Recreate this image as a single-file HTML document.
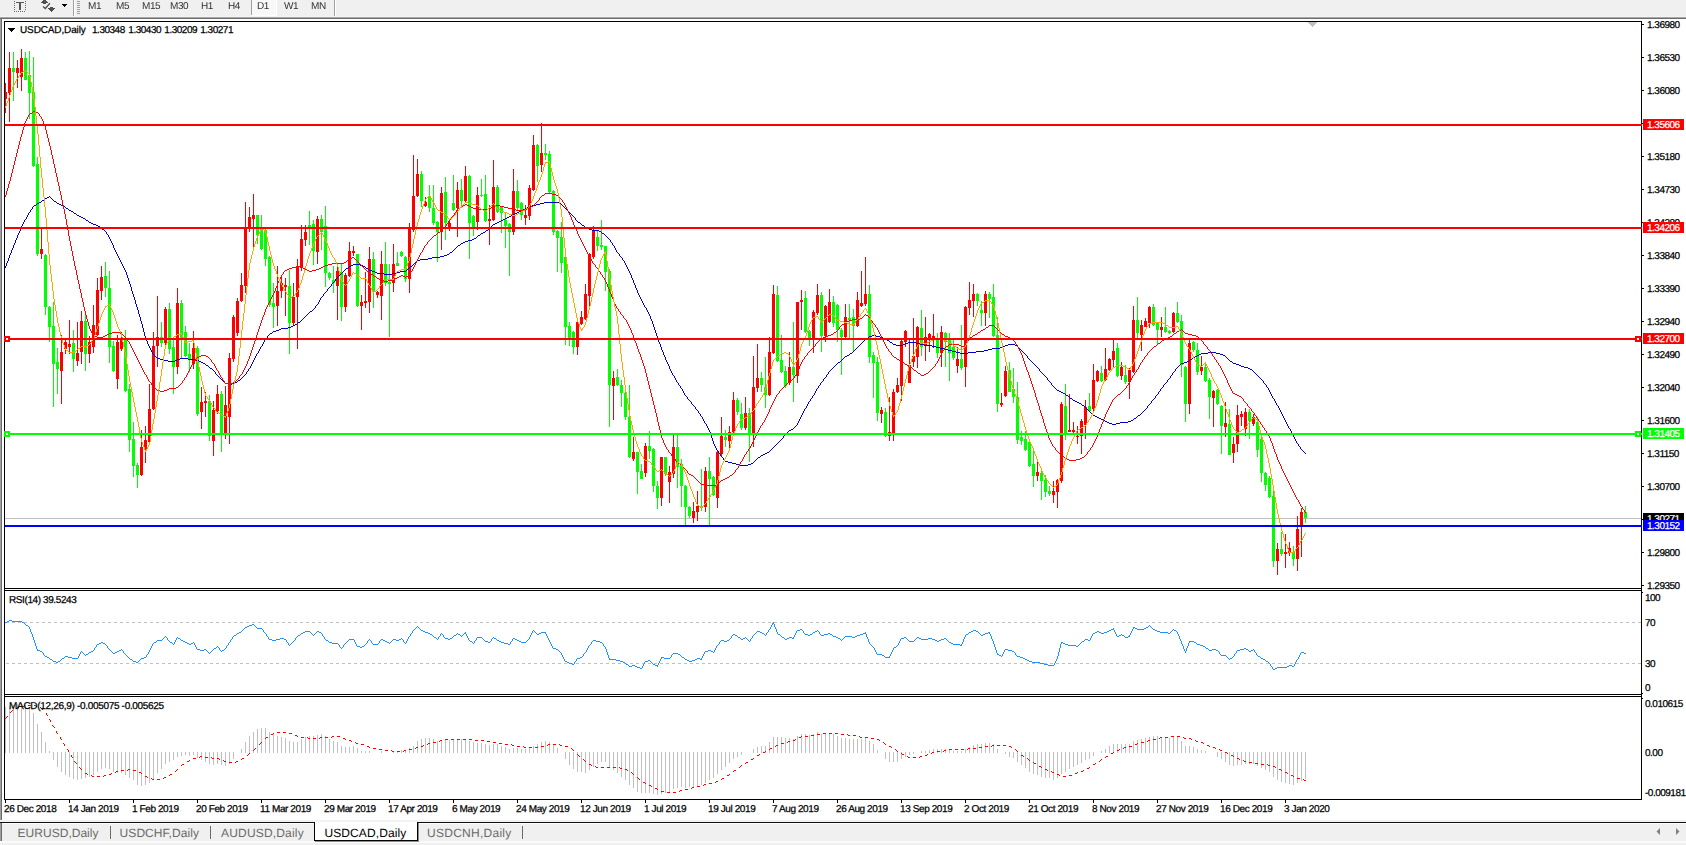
<!DOCTYPE html><html><head><meta charset="utf-8"><title>USDCAD,Daily</title>
<style>
html,body{margin:0;padding:0;background:#fff}
body{width:1686px;height:845px;position:relative;overflow:hidden;font-family:"Liberation Sans",sans-serif;font-size:10px;color:#000;text-rendering:geometricPrecision}
.a{position:absolute;white-space:nowrap;line-height:1}
.t{position:absolute;white-space:nowrap;line-height:12px;height:12px;font-size:10px;-webkit-text-stroke:0.25px #000}
.pl{left:1647px;letter-spacing:-0.5px}
.sl{left:1645px;letter-spacing:-0.5px}
.bx{position:absolute;left:1643px;width:41px;height:11px;color:#fff;overflow:hidden}
.bx span{position:absolute;left:4px;top:1px;line-height:12px;font-size:10px;letter-spacing:-0.5px;-webkit-text-stroke:0.25px #fff}
.dl{top:804px;letter-spacing:-0.4px}
.tf{top:1px;font-size:10px;color:#303030;line-height:12px;letter-spacing:-0.4px;will-change:transform}
.tab{top:826px;font-size:12px;line-height:14px;color:#6a6a6a;letter-spacing:0px}
</style></head><body>
<div class="a" style="left:0;top:0;width:1686px;height:16px;background:#f0f0f0"></div>
<div class="a" style="left:0;top:16px;width:1686px;height:1px;background:#f4f4f4"></div>
<div class="a" style="left:0;top:17px;width:1686px;height:1px;background:#a8a8a8"></div>
<div class="a" style="left:0;top:18px;width:1686px;height:1px;background:#6c6c6c"></div>
<div class="a" style="left:0;top:19px;width:1px;height:801px;background:#a0a0a0"></div>
<div class="a" style="left:1px;top:19px;width:1px;height:801px;background:#6c6c6c"></div>
<div class="a" style="left:73px;top:0;width:1px;height:16px;background:#a0a0a0"></div>
<div class="a" style="left:74px;top:0;width:1px;height:16px;background:#fff"></div>
<div class="a" style="left:334px;top:0;width:1px;height:16px;background:#a0a0a0"></div>
<div class="a" style="left:335px;top:0;width:1px;height:16px;background:#fff"></div>
<div class="a" style="left:77px;top:1px;width:3px;height:13px;background:repeating-linear-gradient(to bottom,#a0a0a0 0,#a0a0a0 1px,#f0f0f0 1px,#f0f0f0 2px)"></div>
<div class="a" style="left:251px;top:0;width:25px;height:15px;background:#f8f8f8;border-left:1px solid #a0a0a0;box-sizing:border-box"></div>
<div class="a" style="left:251px;top:15px;width:26px;height:1px;background:#fff"></div>
<div class="a" style="left:276px;top:0;width:1px;height:16px;background:#fff"></div>
<svg class="a" style="left:0;top:0" width="72" height="16" viewBox="0 0 72 16">
<g shape-rendering="crispEdges"><path d="M14 1h1v1h-1zM14 3h1v1h-1zM14 5h1v1h-1zM14 7h1v1h-1zM14 9h1v1h-1zM25 1h1v1h-1zM25 3h1v1h-1zM25 5h1v1h-1zM25 7h1v1h-1zM25 9h1v1h-1zM14 11h1v1h-1zM16 11h1v1h-1zM18 11h1v1h-1zM20 11h1v1h-1zM22 11h1v1h-1zM24 11h1v1h-1z" fill="#6a6a6a"/>
<path d="M16 2h8v1h-8zM19 2h2v8h-2z" fill="#585858"/>
<path d="M43 0h3v1h-3zM42 1h5v1h-5zM41 2h7v1h-7zM43 3h3v1h-3zM50 7h3v1h-3zM48 8h7v1h-7zM49 9h5v1h-5zM50 10h3v1h-3zM51 11h1v1h-1z" fill="#505050"/>
<path d="M62 4h5v1h-5zM63 5h3v1h-3zM64 6h1v1h-1z" fill="#000"/></g>
<path d="M49.900 3.200L45.300 8.500L43 6.600" fill="none" stroke="#505050" stroke-width="1.300"/></svg>
<svg width="1686" height="845" viewBox="0 0 1686 845" shape-rendering="crispEdges" style="position:absolute;left:0;top:0">
<path d="M5 518h1636v1h-1636z" fill="#c0c0c0"/>
<path d="M6 622.5H1641M6 663.5H1641" stroke="#c0c0c0" stroke-width="1" stroke-dasharray="3 3" fill="none"/>
<path d="M5 707h1v46h-1zM9 706h1v47h-1zM13 705h1v48h-1zM17 704h1v49h-1zM21 704h1v49h-1zM25 705h1v48h-1zM29 707h1v46h-1zM33 713h1v40h-1zM37 724h1v29h-1zM41 732h1v21h-1zM45 742h1v11h-1zM49 751h1v2h-1zM53 752h1v8h-1zM57 752h1v15h-1zM61 752h1v20h-1zM65 752h1v23h-1zM69 752h1v25h-1zM73 752h1v27h-1zM77 752h1v28h-1zM81 752h1v27h-1zM85 752h1v26h-1zM89 752h1v25h-1zM93 752h1v23h-1zM97 752h1v20h-1zM101 752h1v17h-1zM105 752h1v16h-1zM109 752h1v17h-1zM113 752h1v20h-1zM117 752h1v21h-1zM121 752h1v21h-1zM125 752h1v23h-1zM129 752h1v26h-1zM133 752h1v28h-1zM137 752h1v33h-1zM141 752h1v34h-1zM145 752h1v33h-1zM149 752h1v31h-1zM153 752h1v27h-1zM157 752h1v21h-1zM161 752h1v17h-1zM165 752h1v12h-1zM169 752h1v10h-1zM173 752h1v8h-1zM177 752h1v5h-1zM181 752h1v4h-1zM185 752h1v3h-1zM189 752h1v4h-1zM193 752h1v3h-1zM197 752h1v6h-1zM201 752h1v8h-1zM205 752h1v10h-1zM209 752h1v12h-1zM213 752h1v13h-1zM217 752h1v12h-1zM221 752h1v13h-1zM225 752h1v14h-1zM229 752h1v12h-1zM233 752h1v7h-1zM241 749h1v4h-1zM245 742h1v11h-1zM249 736h1v17h-1zM253 732h1v21h-1zM257 729h1v24h-1zM261 728h1v25h-1zM265 728h1v25h-1zM269 732h1v21h-1zM273 734h1v19h-1zM277 736h1v17h-1zM281 737h1v16h-1zM285 738h1v15h-1zM289 741h1v12h-1zM293 742h1v11h-1zM297 742h1v11h-1zM301 739h1v14h-1zM305 737h1v16h-1zM309 736h1v17h-1zM313 736h1v17h-1zM317 735h1v18h-1zM321 734h1v19h-1zM325 736h1v17h-1zM329 739h1v14h-1zM333 741h1v12h-1zM337 742h1v11h-1zM341 746h1v7h-1zM345 747h1v6h-1zM349 747h1v6h-1zM353 746h1v7h-1zM357 748h1v5h-1zM361 751h1v2h-1zM365 751h1v2h-1zM369 751h1v2h-1zM381 751h1v2h-1zM393 751h1v2h-1zM397 751h1v2h-1zM401 750h1v3h-1zM405 750h1v3h-1zM409 748h1v5h-1zM413 746h1v7h-1zM417 741h1v12h-1zM421 739h1v14h-1zM425 738h1v15h-1zM429 738h1v15h-1zM433 739h1v14h-1zM437 741h1v12h-1zM441 740h1v13h-1zM445 739h1v14h-1zM449 740h1v13h-1zM453 739h1v14h-1zM457 739h1v14h-1zM461 739h1v14h-1zM465 739h1v14h-1zM469 741h1v12h-1zM473 742h1v11h-1zM477 743h1v10h-1zM481 743h1v10h-1zM485 744h1v9h-1zM489 745h1v8h-1zM493 744h1v9h-1zM497 744h1v9h-1zM501 746h1v7h-1zM505 747h1v6h-1zM509 749h1v4h-1zM513 748h1v5h-1zM517 748h1v5h-1zM521 749h1v4h-1zM525 749h1v4h-1zM529 748h1v5h-1zM533 746h1v7h-1zM537 744h1v9h-1zM541 742h1v11h-1zM545 741h1v12h-1zM549 742h1v11h-1zM553 744h1v9h-1zM557 748h1v5h-1zM565 752h1v7h-1zM569 752h1v13h-1zM573 752h1v17h-1zM577 752h1v20h-1zM581 752h1v20h-1zM585 752h1v21h-1zM589 752h1v18h-1zM593 752h1v15h-1zM597 752h1v12h-1zM601 752h1v10h-1zM605 752h1v10h-1zM609 752h1v16h-1zM613 752h1v18h-1zM617 752h1v21h-1zM621 752h1v25h-1zM625 752h1v28h-1zM629 752h1v33h-1zM633 752h1v36h-1zM637 752h1v40h-1zM641 752h1v41h-1zM645 752h1v41h-1zM649 752h1v41h-1zM653 752h1v42h-1zM657 752h1v43h-1zM661 752h1v42h-1zM665 752h1v41h-1zM669 752h1v40h-1zM673 752h1v37h-1zM677 752h1v36h-1zM681 752h1v35h-1zM685 752h1v36h-1zM689 752h1v35h-1zM693 752h1v35h-1zM697 752h1v34h-1zM701 752h1v33h-1zM705 752h1v31h-1zM709 752h1v28h-1zM713 752h1v26h-1zM717 752h1v22h-1zM721 752h1v18h-1zM725 752h1v15h-1zM729 752h1v11h-1zM733 752h1v7h-1zM737 752h1v5h-1zM741 752h1v3h-1zM753 749h1v4h-1zM757 747h1v6h-1zM761 746h1v7h-1zM765 746h1v7h-1zM769 742h1v11h-1zM773 737h1v16h-1zM777 737h1v16h-1zM781 737h1v16h-1zM785 738h1v15h-1zM789 738h1v15h-1zM793 739h1v14h-1zM797 736h1v17h-1zM801 734h1v19h-1zM805 734h1v19h-1zM809 735h1v18h-1zM813 734h1v19h-1zM817 732h1v21h-1zM821 734h1v19h-1zM825 734h1v19h-1zM829 734h1v19h-1zM833 734h1v19h-1zM837 736h1v17h-1zM841 738h1v15h-1zM845 738h1v15h-1zM849 739h1v14h-1zM853 739h1v14h-1zM857 739h1v14h-1zM861 739h1v14h-1zM865 738h1v15h-1zM869 741h1v12h-1zM873 744h1v9h-1zM877 750h1v3h-1zM885 752h1v7h-1zM889 752h1v10h-1zM893 752h1v10h-1zM897 752h1v10h-1zM901 752h1v7h-1zM905 752h1v5h-1zM909 752h1v3h-1zM913 752h1v2h-1zM921 751h1v2h-1zM925 751h1v2h-1zM929 750h1v3h-1zM933 749h1v4h-1zM937 749h1v4h-1zM941 749h1v4h-1zM945 749h1v4h-1zM949 749h1v4h-1zM953 751h1v2h-1zM957 751h1v2h-1zM961 751h1v2h-1zM965 749h1v4h-1zM969 747h1v6h-1zM973 745h1v8h-1zM977 744h1v9h-1zM981 744h1v9h-1zM985 743h1v10h-1zM989 743h1v10h-1zM993 744h1v9h-1zM997 749h1v4h-1zM1005 752h1v2h-1zM1009 752h1v5h-1zM1013 752h1v6h-1zM1017 752h1v10h-1zM1021 752h1v13h-1zM1025 752h1v16h-1zM1029 752h1v20h-1zM1033 752h1v22h-1zM1037 752h1v23h-1zM1041 752h1v25h-1zM1045 752h1v26h-1zM1049 752h1v26h-1zM1053 752h1v28h-1zM1057 752h1v26h-1zM1061 752h1v22h-1zM1065 752h1v20h-1zM1069 752h1v17h-1zM1073 752h1v15h-1zM1077 752h1v13h-1zM1081 752h1v11h-1zM1085 752h1v8h-1zM1089 752h1v7h-1zM1093 752h1v4h-1zM1101 751h1v2h-1zM1105 749h1v4h-1zM1109 746h1v7h-1zM1113 744h1v9h-1zM1117 744h1v9h-1zM1121 744h1v9h-1zM1125 744h1v9h-1zM1129 744h1v9h-1zM1133 741h1v12h-1zM1137 740h1v13h-1zM1141 739h1v14h-1zM1145 738h1v15h-1zM1149 737h1v16h-1zM1153 736h1v17h-1zM1157 736h1v17h-1zM1161 737h1v16h-1zM1165 737h1v16h-1zM1169 738h1v15h-1zM1173 737h1v16h-1zM1177 737h1v16h-1zM1181 741h1v12h-1zM1185 746h1v7h-1zM1189 746h1v7h-1zM1193 747h1v6h-1zM1197 749h1v4h-1zM1201 750h1v3h-1zM1205 751h1v2h-1zM1217 752h1v5h-1zM1221 752h1v7h-1zM1225 752h1v10h-1zM1229 752h1v13h-1zM1233 752h1v14h-1zM1237 752h1v13h-1zM1241 752h1v13h-1zM1245 752h1v12h-1zM1249 752h1v12h-1zM1253 752h1v12h-1zM1257 752h1v14h-1zM1261 752h1v16h-1zM1265 752h1v18h-1zM1269 752h1v20h-1zM1273 752h1v25h-1zM1277 752h1v28h-1zM1281 752h1v30h-1zM1285 752h1v31h-1zM1289 752h1v32h-1zM1293 752h1v33h-1zM1297 752h1v31h-1zM1301 752h1v29h-1zM1305 752h1v27h-1z" fill="#c0c0c0"/>
<path d="M13 52h1v49h-1zM12 68h3v4h-3zM25 52h1v28h-1zM24 58h3v22h-3zM29 51h1v68h-1zM28 75h3v18h-3zM33 57h1v110h-1zM32 92h3v74h-3zM37 157h1v99h-1zM36 164h3v90h-3zM45 254h1v61h-1zM44 255h3v52h-3zM49 306h1v36h-1zM48 307h3v20h-3zM53 302h1v105h-1zM52 326h3v38h-3zM57 348h1v46h-1zM56 362h3v7h-3zM73 330h1v42h-1zM72 343h3v16h-3zM85 315h1v56h-1zM84 321h3v33h-3zM105 262h1v35h-1zM104 276h3v12h-3zM109 271h1v92h-1zM108 288h3v59h-3zM113 341h1v31h-1zM112 346h3v25h-3zM125 330h1v62h-1zM124 340h3v51h-3zM129 384h1v68h-1zM128 389h3v51h-3zM133 422h1v55h-1zM132 439h3v27h-3zM137 463h1v25h-1zM136 465h3v10h-3zM161 322h1v25h-1zM160 337h3v6h-3zM169 303h1v51h-1zM168 309h3v40h-3zM173 340h1v54h-1zM172 347h3v20h-3zM181 300h1v59h-1zM180 303h3v37h-3zM185 326h1v31h-1zM184 332h3v24h-3zM189 343h1v29h-1zM188 354h3v5h-3zM197 346h1v70h-1zM196 348h3v66h-3zM209 395h1v46h-1zM208 401h3v35h-3zM221 391h1v61h-1zM220 394h3v40h-3zM257 215h1v29h-1zM256 215h3v20h-3zM261 215h1v35h-1zM260 229h3v20h-3zM265 229h1v37h-1zM264 230h3v29h-3zM269 256h1v51h-1zM268 257h3v48h-3zM273 283h1v45h-1zM272 303h3v4h-3zM289 270h1v84h-1zM288 286h3v37h-3zM309 211h1v34h-1zM308 225h3v4h-3zM313 220h1v45h-1zM312 224h3v27h-3zM321 215h1v35h-1zM320 219h3v13h-3zM325 206h1v81h-1zM324 226h3v47h-3zM329 272h1v8h-1zM328 273h3v5h-3zM333 266h1v27h-1zM332 280h3v3h-3zM341 264h1v57h-1zM340 272h3v35h-3zM357 254h1v53h-1zM356 254h3v52h-3zM373 252h1v56h-1zM372 259h3v33h-3zM385 242h1v44h-1zM384 264h3v19h-3zM389 264h1v73h-1zM388 282h3v2h-3zM397 252h1v14h-1zM396 263h3v3h-3zM401 251h1v6h-1zM400 252h3v4h-3zM405 256h1v26h-1zM404 257h3v22h-3zM421 171h1v36h-1zM420 174h3v27h-3zM429 185h1v27h-1zM428 196h3v12h-3zM433 185h1v40h-1zM432 208h3v15h-3zM437 221h1v41h-1zM436 222h3v10h-3zM445 177h1v63h-1zM444 192h3v31h-3zM453 175h1v36h-1zM452 203h3v7h-3zM461 179h1v29h-1zM460 190h3v11h-3zM469 175h1v84h-1zM468 176h3v47h-3zM473 215h1v21h-1zM472 216h3v11h-3zM481 179h1v18h-1zM480 195h3v1h-3zM485 175h1v47h-1zM484 194h3v27h-3zM497 185h1v28h-1zM496 187h3v25h-3zM501 206h1v27h-1zM500 207h3v6h-3zM505 213h1v35h-1zM504 220h3v6h-3zM509 223h1v53h-1zM508 224h3v8h-3zM517 180h1v30h-1zM516 191h3v17h-3zM521 202h1v18h-1zM520 203h3v12h-3zM537 144h1v38h-1zM536 145h3v21h-3zM545 144h1v16h-1zM544 153h3v2h-3zM549 151h1v42h-1zM548 154h3v38h-3zM553 190h1v45h-1zM552 191h3v41h-3zM557 230h1v42h-1zM556 231h3v7h-3zM561 222h1v51h-1zM560 237h3v26h-3zM565 256h1v89h-1zM564 257h3v70h-3zM569 322h1v24h-1zM568 326h3v13h-3zM573 331h1v23h-1zM572 332h3v15h-3zM597 230h1v21h-1zM596 237h3v9h-3zM601 220h1v30h-1zM600 245h3v2h-3zM605 246h1v45h-1zM604 246h3v26h-3zM609 269h1v158h-1zM608 271h3v114h-3zM617 369h1v17h-1zM616 377h3v8h-3zM621 380h1v27h-1zM620 385h3v8h-3zM625 385h1v35h-1zM624 393h3v24h-3zM629 385h1v73h-1zM628 417h3v40h-3zM637 452h1v42h-1zM636 452h3v20h-3zM641 464h1v15h-1zM640 471h3v8h-3zM649 431h1v28h-1zM648 446h3v5h-3zM653 448h1v44h-1zM652 449h3v37h-3zM657 481h1v28h-1zM656 486h3v12h-3zM665 457h1v19h-1zM664 457h3v17h-3zM677 435h1v53h-1zM676 447h3v20h-3zM681 459h1v48h-1zM680 464h3v22h-3zM685 485h1v40h-1zM684 486h3v21h-3zM689 506h1v12h-1zM688 507h3v9h-3zM701 469h1v42h-1zM700 506h3v2h-3zM709 457h1v68h-1zM708 471h3v8h-3zM713 476h1v20h-1zM712 477h3v18h-3zM725 430h1v17h-1zM724 437h3v3h-3zM737 398h1v17h-1zM736 400h3v12h-3zM741 403h1v27h-1zM740 414h3v14h-3zM749 408h1v54h-1zM748 413h3v20h-3zM761 372h1v20h-1zM760 378h3v7h-3zM765 357h1v51h-1zM764 387h3v8h-3zM777 286h1v76h-1zM776 295h3v66h-3zM781 335h1v38h-1zM780 360h3v12h-3zM785 366h1v22h-1zM784 371h3v15h-3zM793 322h1v80h-1zM792 367h3v8h-3zM805 291h1v42h-1zM804 298h3v34h-3zM809 330h1v16h-1zM808 331h3v9h-3zM821 292h1v60h-1zM820 295h3v41h-3zM833 296h1v31h-1zM832 302h3v21h-3zM837 304h1v38h-1zM836 305h3v25h-3zM841 328h1v47h-1zM840 330h3v7h-3zM849 304h1v36h-1zM848 318h3v2h-3zM853 309h1v42h-1zM852 317h3v9h-3zM869 285h1v78h-1zM868 294h3v63h-3zM873 352h1v46h-1zM872 355h3v8h-3zM877 357h1v64h-1zM876 362h3v51h-3zM885 408h1v29h-1zM884 412h3v24h-3zM921 310h1v46h-1zM920 328h3v19h-3zM937 333h1v25h-1zM936 340h3v13h-3zM945 332h1v35h-1zM944 333h3v9h-3zM949 333h1v48h-1zM948 340h3v13h-3zM953 340h1v20h-1zM952 347h3v11h-3zM961 325h1v45h-1zM960 359h3v9h-3zM977 293h1v13h-1zM976 294h3v7h-3zM981 301h1v25h-1zM980 310h3v3h-3zM989 292h1v26h-1zM988 294h3v5h-3zM993 284h1v53h-1zM992 297h3v39h-3zM997 317h1v95h-1zM996 335h3v69h-3zM1009 362h1v30h-1zM1008 370h3v22h-3zM1013 368h1v35h-1zM1012 389h3v8h-3zM1017 382h1v62h-1zM1016 397h3v43h-3zM1021 431h1v14h-1zM1020 437h3v4h-3zM1025 431h1v20h-1zM1024 439h3v11h-3zM1029 441h1v26h-1zM1028 442h3v24h-3zM1033 449h1v38h-1zM1032 464h3v12h-3zM1041 470h1v30h-1zM1040 473h3v8h-3zM1045 475h1v22h-1zM1044 480h3v12h-3zM1049 486h1v10h-1zM1048 491h3v3h-3zM1065 384h1v56h-1zM1064 406h3v28h-3zM1089 393h1v19h-1zM1088 406h3v5h-3zM1101 366h1v16h-1zM1100 373h3v8h-3zM1117 343h1v34h-1zM1116 348h3v28h-3zM1125 365h1v19h-1zM1124 375h3v7h-3zM1137 297h1v43h-1zM1136 320h3v13h-3zM1153 304h1v22h-1zM1152 307h3v18h-3zM1157 322h1v23h-1zM1156 323h3v7h-3zM1165 307h1v26h-1zM1164 327h3v5h-3zM1169 330h1v4h-1zM1168 331h3v2h-3zM1177 302h1v21h-1zM1176 313h3v9h-3zM1181 315h1v62h-1zM1180 321h3v44h-3zM1185 366h1v56h-1zM1184 367h3v37h-3zM1193 341h1v11h-1zM1192 342h3v8h-3zM1197 343h1v32h-1zM1196 350h3v22h-3zM1205 362h1v20h-1zM1204 367h3v14h-3zM1209 378h1v41h-1zM1208 380h3v17h-3zM1217 389h1v16h-1zM1216 390h3v14h-3zM1221 405h1v49h-1zM1220 406h3v20h-3zM1229 409h1v46h-1zM1228 424h3v31h-3zM1249 409h1v30h-1zM1248 412h3v9h-3zM1257 417h1v40h-1zM1256 422h3v28h-3zM1261 436h1v46h-1zM1260 439h3v34h-3zM1265 472h1v19h-1zM1264 473h3v12h-3zM1269 476h1v22h-1zM1268 478h3v19h-3zM1273 487h1v80h-1zM1272 496h3v65h-3zM1281 532h1v24h-1zM1280 549h3v5h-3zM1293 546h1v20h-1zM1292 552h3v7h-3zM1305 506h1v17h-1zM1304 512h3v6h-3z" fill="#00ff00"/>
<path d="M5 83h1v30h-1zM5 92h2v7h-2zM9 52h1v70h-1zM8 68h3v25h-3zM17 60h1v28h-1zM16 68h3v5h-3zM21 49h1v42h-1zM20 58h3v19h-3zM41 229h1v30h-1zM40 249h3v5h-3zM61 335h1v69h-1zM60 352h3v19h-3zM65 338h1v16h-1zM64 342h3v7h-3zM69 320h1v34h-1zM68 344h3v3h-3zM77 322h1v44h-1zM76 353h3v8h-3zM81 311h1v53h-1zM80 321h3v31h-3zM89 336h1v27h-1zM88 342h3v12h-3zM93 305h1v48h-1zM92 325h3v22h-3zM97 278h1v58h-1zM96 290h3v45h-3zM101 266h1v34h-1zM100 277h3v14h-3zM117 335h1v54h-1zM116 342h3v37h-3zM121 332h1v19h-1zM120 340h3v9h-3zM141 430h1v46h-1zM140 447h3v28h-3zM145 426h1v37h-1zM144 440h3v10h-3zM149 384h1v60h-1zM148 409h3v33h-3zM153 332h1v78h-1zM152 346h3v63h-3zM157 296h1v71h-1zM156 337h3v9h-3zM165 307h1v39h-1zM164 309h3v34h-3zM177 288h1v86h-1zM176 303h3v64h-3zM193 331h1v38h-1zM192 348h3v16h-3zM201 387h1v42h-1zM200 402h3v10h-3zM205 392h1v25h-1zM204 401h3v2h-3zM213 401h1v55h-1zM212 410h3v31h-3zM217 385h1v29h-1zM216 394h3v17h-3zM225 386h1v53h-1zM224 405h3v29h-3zM229 353h1v91h-1zM228 358h3v59h-3zM233 315h1v47h-1zM232 317h3v42h-3zM237 298h1v38h-1zM236 301h3v32h-3zM241 273h1v29h-1zM240 285h3v16h-3zM245 202h1v91h-1zM244 229h3v57h-3zM249 207h1v25h-1zM248 217h3v10h-3zM253 194h1v55h-1zM252 215h3v4h-3zM277 266h1v60h-1zM276 291h3v15h-3zM281 275h1v23h-1zM280 283h3v8h-3zM285 278h1v38h-1zM284 285h3v2h-3zM293 283h1v43h-1zM292 297h3v26h-3zM297 259h1v90h-1zM296 266h3v31h-3zM301 225h1v46h-1zM300 239h3v28h-3zM305 225h1v21h-1zM304 232h3v8h-3zM317 216h1v48h-1zM316 219h3v33h-3zM337 264h1v56h-1zM336 271h3v15h-3zM345 273h1v39h-1zM344 275h3v32h-3zM349 242h1v35h-1zM348 251h3v25h-3zM353 246h1v10h-1zM352 251h3v2h-3zM361 295h1v35h-1zM360 302h3v4h-3zM365 272h1v36h-1zM364 301h3v2h-3zM369 247h1v66h-1zM368 259h3v43h-3zM377 291h1v7h-1zM376 292h3v3h-3zM381 251h1v69h-1zM380 264h3v32h-3zM393 244h1v48h-1zM392 264h3v19h-3zM409 223h1v70h-1zM408 228h3v51h-3zM413 155h1v77h-1zM412 196h3v34h-3zM417 159h1v38h-1zM416 174h3v22h-3zM425 197h1v10h-1zM424 202h3v4h-3zM441 187h1v63h-1zM440 193h3v39h-3zM449 220h1v11h-1zM448 223h3v4h-3zM457 182h1v55h-1zM456 190h3v18h-3zM465 166h1v36h-1zM464 176h3v25h-3zM477 187h1v43h-1zM476 195h3v27h-3zM489 205h1v40h-1zM488 219h3v2h-3zM493 160h1v61h-1zM492 187h3v33h-3zM513 169h1v66h-1zM512 191h3v41h-3zM525 205h1v20h-1zM524 215h3v3h-3zM529 185h1v35h-1zM528 188h3v28h-3zM533 135h1v56h-1zM532 145h3v45h-3zM541 123h1v49h-1zM540 153h3v12h-3zM577 321h1v34h-1zM576 322h3v25h-3zM581 311h1v14h-1zM580 317h3v7h-3zM585 284h1v36h-1zM584 294h3v25h-3zM589 253h1v54h-1zM588 254h3v42h-3zM593 226h1v33h-1zM592 231h3v26h-3zM613 371h1v49h-1zM612 378h3v8h-3zM633 437h1v24h-1zM632 452h3v7h-3zM645 443h1v34h-1zM644 446h3v27h-3zM661 457h1v49h-1zM660 457h3v41h-3zM669 466h1v37h-1zM668 472h3v10h-3zM673 435h1v43h-1zM672 447h3v27h-3zM693 502h1v21h-1zM692 511h3v7h-3zM697 491h1v30h-1zM696 506h3v6h-3zM705 467h1v45h-1zM704 471h3v36h-3zM717 451h1v57h-1zM716 452h3v46h-3zM721 417h1v39h-1zM720 436h3v18h-3zM729 426h1v23h-1zM728 432h3v9h-3zM733 392h1v41h-1zM732 400h3v32h-3zM745 397h1v33h-1zM744 413h3v15h-3zM753 356h1v91h-1zM752 387h3v48h-3zM757 344h1v48h-1zM756 378h3v10h-3zM769 337h1v59h-1zM768 352h3v43h-3zM773 285h1v69h-1zM772 294h3v59h-3zM789 352h1v33h-1zM788 367h3v16h-3zM797 302h1v81h-1zM796 302h3v74h-3zM801 290h1v40h-1zM800 300h3v2h-3zM813 310h1v43h-1zM812 312h3v28h-3zM817 284h1v31h-1zM816 295h3v18h-3zM825 305h1v37h-1zM824 306h3v30h-3zM829 289h1v34h-1zM828 302h3v20h-3zM845 304h1v34h-1zM844 317h3v20h-3zM857 292h1v35h-1zM856 300h3v26h-3zM861 271h1v36h-1zM860 303h3v3h-3zM865 257h1v49h-1zM864 294h3v10h-3zM881 407h1v16h-1zM880 410h3v4h-3zM889 397h1v44h-1zM888 432h3v4h-3zM893 389h1v52h-1zM892 392h3v42h-3zM897 378h1v15h-1zM896 385h3v7h-3zM901 340h1v61h-1zM900 341h3v45h-3zM905 330h1v17h-1zM904 331h3v11h-3zM909 339h1v44h-1zM908 365h3v18h-3zM913 318h1v49h-1zM912 356h3v6h-3zM917 326h1v42h-1zM916 327h3v30h-3zM925 317h1v44h-1zM924 337h3v8h-3zM929 333h1v19h-1zM928 334h3v6h-3zM933 314h1v34h-1zM932 336h3v2h-3zM941 326h1v41h-1zM940 332h3v21h-3zM957 347h1v26h-1zM956 359h3v7h-3zM965 306h1v81h-1zM964 307h3v60h-3zM969 282h1v33h-1zM968 300h3v8h-3zM973 284h1v33h-1zM972 294h3v7h-3zM985 291h1v35h-1zM984 294h3v19h-3zM1001 393h1v14h-1zM1000 403h3v2h-3zM1005 366h1v31h-1zM1004 371h3v25h-3zM1037 459h1v22h-1zM1036 472h3v4h-3zM1053 481h1v22h-1zM1052 491h3v4h-3zM1057 479h1v29h-1zM1056 480h3v12h-3zM1061 402h1v81h-1zM1060 404h3v77h-3zM1069 394h1v38h-1zM1068 430h3v2h-3zM1073 422h1v12h-1zM1072 430h3v2h-3zM1077 426h1v18h-1zM1076 436h3v1h-3zM1081 419h1v35h-1zM1080 421h3v15h-3zM1085 400h1v39h-1zM1084 407h3v18h-3zM1093 364h1v48h-1zM1092 380h3v29h-3zM1097 370h1v12h-1zM1096 371h3v10h-3zM1105 348h1v33h-1zM1104 369h3v11h-3zM1109 358h1v13h-1zM1108 359h3v11h-3zM1113 340h1v28h-1zM1112 351h3v9h-3zM1121 362h1v18h-1zM1120 367h3v9h-3zM1129 368h1v31h-1zM1128 370h3v12h-3zM1133 306h1v67h-1zM1132 320h3v52h-3zM1141 320h1v31h-1zM1140 325h3v10h-3zM1145 318h1v9h-1zM1144 321h3v6h-3zM1149 306h1v22h-1zM1148 307h3v16h-3zM1161 317h1v20h-1zM1160 327h3v3h-3zM1173 312h1v21h-1zM1172 313h3v19h-3zM1189 340h1v74h-1zM1188 343h3v61h-3zM1201 356h1v19h-1zM1200 367h3v4h-3zM1213 390h1v37h-1zM1212 391h3v7h-3zM1225 402h1v35h-1zM1224 423h3v4h-3zM1233 437h1v26h-1zM1232 444h3v9h-3zM1237 405h1v47h-1zM1236 415h3v29h-3zM1241 411h1v15h-1zM1240 414h3v3h-3zM1245 408h1v28h-1zM1244 412h3v17h-3zM1253 414h1v12h-1zM1252 417h3v7h-3zM1277 543h1v32h-1zM1276 549h3v12h-3zM1285 534h1v34h-1zM1284 552h3v2h-3zM1289 542h1v14h-1zM1288 548h3v5h-3zM1297 516h1v55h-1zM1296 529h3v30h-3zM1301 508h1v49h-1zM1300 512h3v15h-3z" fill="#ff0000"/>
<path d="M47 197h2v1h-2zM45 198h2v1h-2zM42 200h2v1h-2zM54 201h2v1h-2zM39 202h2v1h-2zM544 202h15v1h-15zM37 203h2v1h-2zM57 203h2v1h-2zM540 203h4v1h-4zM559 203h2v1h-2zM59 204h2v1h-2zM536 204h4v1h-4zM34 205h2v1h-2zM61 205h2v1h-2zM532 205h4v1h-4zM63 206h2v1h-2zM529 206h3v1h-3zM527 207h2v1h-2zM66 208h2v1h-2zM525 208h2v1h-2zM523 209h2v1h-2zM69 210h2v1h-2zM521 210h2v1h-2zM71 211h2v1h-2zM519 211h2v1h-2zM517 212h2v1h-2zM74 213h2v1h-2zM515 213h2v1h-2zM513 214h2v1h-2zM77 215h2v1h-2zM511 215h2v1h-2zM79 216h2v1h-2zM509 216h2v1h-2zM81 217h2v1h-2zM507 217h2v1h-2zM83 218h2v1h-2zM505 218h2v1h-2zM503 219h2v1h-2zM86 220h2v1h-2zM501 220h2v1h-2zM499 221h2v1h-2zM89 222h2v1h-2zM497 222h2v1h-2zM578 222h2v1h-2zM91 223h2v1h-2zM495 223h2v1h-2zM93 224h3v1h-3zM493 224h2v1h-2zM96 225h2v1h-2zM582 225h2v1h-2zM98 226h2v1h-2zM585 227h2v1h-2zM587 228h2v1h-2zM102 229h2v1h-2zM589 229h3v1h-3zM486 230h2v1h-2zM592 230h7v1h-7zM599 231h2v1h-2zM483 232h2v1h-2zM481 233h2v1h-2zM602 233h2v1h-2zM478 235h2v1h-2zM474 238h2v1h-2zM472 239h2v1h-2zM468 240h4v1h-4zM465 241h3v1h-3zM463 242h2v1h-2zM461 243h2v1h-2zM458 245h2v1h-2zM450 252h2v1h-2zM447 254h2v1h-2zM444 255h3v1h-3zM440 256h4v1h-4zM432 257h8v1h-8zM428 258h4v1h-4zM420 259h8v1h-8zM417 260h3v1h-3zM353 264h7v1h-7zM351 265h2v1h-2zM360 265h3v1h-3zM349 266h2v1h-2zM363 266h2v1h-2zM410 266h2v1h-2zM346 268h2v1h-2zM366 268h2v1h-2zM369 270h3v1h-3zM372 271h3v1h-3zM400 271h6v1h-6zM375 272h2v1h-2zM396 272h4v1h-4zM377 273h7v1h-7zM392 273h4v1h-4zM384 274h8v1h-8zM310 311h2v1h-2zM298 322h2v1h-2zM295 324h2v1h-2zM293 325h2v1h-2zM291 326h2v1h-2zM288 327h3v1h-3zM281 328h7v1h-7zM279 329h2v1h-2zM276 330h3v1h-3zM273 331h3v1h-3zM270 333h2v1h-2zM872 335h4v1h-4zM869 336h3v1h-3zM876 336h4v1h-4zM880 337h3v1h-3zM866 338h2v1h-2zM883 338h2v1h-2zM885 339h2v1h-2zM887 340h2v1h-2zM890 342h2v1h-2zM908 342h8v1h-8zM905 343h3v1h-3zM916 343h4v1h-4zM893 344h3v1h-3zM903 344h2v1h-2zM920 344h4v1h-4zM1008 344h7v1h-7zM896 345h7v1h-7zM924 345h8v1h-8zM1005 345h3v1h-3zM1015 345h2v1h-2zM932 346h4v1h-4zM1003 346h2v1h-2zM936 347h4v1h-4zM1000 347h3v1h-3zM940 348h4v1h-4zM992 348h8v1h-8zM944 349h4v1h-4zM988 349h4v1h-4zM948 350h4v1h-4zM984 350h4v1h-4zM952 351h4v1h-4zM976 351h8v1h-8zM956 352h4v1h-4zM968 352h8v1h-8zM1208 352h8v1h-8zM850 353h2v1h-2zM960 353h8v1h-8zM1201 353h7v1h-7zM1216 353h4v1h-4zM1199 354h2v1h-2zM1220 354h3v1h-3zM847 355h2v1h-2zM1197 355h2v1h-2zM1223 355h2v1h-2zM845 356h2v1h-2zM1195 356h2v1h-2zM1193 357h2v1h-2zM157 358h3v1h-3zM180 358h8v1h-8zM160 359h4v1h-4zM177 359h3v1h-3zM188 359h8v1h-8zM1190 359h2v1h-2zM164 360h4v1h-4zM175 360h2v1h-2zM196 360h3v1h-3zM168 361h7v1h-7zM199 361h2v1h-2zM1187 361h2v1h-2zM1230 361h2v1h-2zM201 362h2v1h-2zM838 362h2v1h-2zM1184 362h3v1h-3zM203 363h2v1h-2zM1181 363h3v1h-3zM1233 363h3v1h-3zM1236 364h3v1h-3zM206 365h2v1h-2zM1239 365h2v1h-2zM1241 366h3v1h-3zM1244 367h4v1h-4zM210 368h2v1h-2zM1248 368h2v1h-2zM1250 369h2v1h-2zM238 380h2v1h-2zM235 382h2v1h-2zM225 383h3v1h-3zM232 383h3v1h-3zM228 384h4v1h-4zM1057 390h2v1h-2zM1059 391h2v1h-2zM1061 392h2v1h-2zM1063 393h2v1h-2zM1066 395h2v1h-2zM1070 398h2v1h-2zM1073 400h2v1h-2zM1075 401h2v1h-2zM1077 402h2v1h-2zM1079 403h2v1h-2zM1082 405h2v1h-2zM1093 415h2v1h-2zM1138 415h2v1h-2zM1095 416h2v1h-2zM1097 417h2v1h-2zM1099 418h2v1h-2zM1134 418h2v1h-2zM1101 419h2v1h-2zM1103 420h2v1h-2zM1131 420h2v1h-2zM1105 421h2v1h-2zM1128 421h3v1h-3zM1107 422h2v1h-2zM1120 422h8v1h-8zM1109 423h3v1h-3zM1116 423h4v1h-4zM1112 424h4v1h-4zM791 429h2v1h-2zM789 430h2v1h-2zM767 452h2v1h-2zM765 453h2v1h-2zM763 454h2v1h-2zM761 455h2v1h-2zM758 457h2v1h-2zM725 461h3v1h-3zM728 462h4v1h-4zM732 463h4v1h-4zM751 463h2v1h-2zM736 464h4v1h-4zM748 464h3v1h-3zM740 465h8v1h-8zM5 266h1v2h-1zM6 263h1v3h-1zM7 261h1v2h-1zM8 258h1v3h-1zM9 255h1v3h-1zM10 253h1v2h-1zM11 250h1v3h-1zM12 248h1v2h-1zM13 245h1v3h-1zM14 243h1v2h-1zM15 240h1v3h-1zM16 238h1v2h-1zM17 235h1v3h-1zM18 233h1v2h-1zM19 231h1v2h-1zM20 229h1v2h-1zM21 226h1v3h-1zM22 224h1v2h-1zM23 222h1v2h-1zM24 220h1v2h-1zM25 219h1v1h-1zM26 217h1v2h-1zM27 215h1v2h-1zM28 213h1v2h-1zM29 212h1v1h-1zM30 210h1v2h-1zM31 209h1v1h-1zM32 207h1v2h-1zM33 206h1v1h-1zM36 204h1v1h-1zM41 201h1v1h-1zM44 199h1v1h-1zM49 196h1v1h-1zM50 197h1v1h-1zM51 198h1v1h-1zM52 199h1v1h-1zM53 200h1v1h-1zM56 202h1v1h-1zM65 207h1v1h-1zM68 209h1v1h-1zM73 212h1v1h-1zM76 214h1v1h-1zM85 219h1v1h-1zM88 221h1v1h-1zM100 227h1v1h-1zM101 228h1v1h-1zM104 230h1v1h-1zM105 231h1v1h-1zM106 232h1v2h-1zM107 234h1v1h-1zM108 235h1v2h-1zM109 237h1v2h-1zM110 239h1v2h-1zM111 241h1v2h-1zM112 243h1v2h-1zM113 245h1v3h-1zM114 248h1v2h-1zM115 250h1v2h-1zM116 252h1v2h-1zM117 254h1v2h-1zM118 256h1v2h-1zM119 258h1v2h-1zM120 260h1v2h-1zM121 262h1v2h-1zM122 264h1v2h-1zM123 266h1v2h-1zM124 268h1v2h-1zM125 270h1v2h-1zM126 272h1v3h-1zM127 275h1v3h-1zM128 278h1v3h-1zM129 281h1v3h-1zM130 284h1v3h-1zM131 287h1v4h-1zM132 291h1v3h-1zM133 294h1v3h-1zM134 297h1v3h-1zM135 300h1v4h-1zM136 304h1v3h-1zM137 307h1v3h-1zM138 310h1v4h-1zM139 314h1v3h-1zM140 317h1v4h-1zM141 321h1v3h-1zM142 324h1v4h-1zM143 328h1v4h-1zM144 332h1v4h-1zM145 336h1v3h-1zM146 339h1v2h-1zM147 341h1v3h-1zM148 344h1v2h-1zM149 346h1v2h-1zM150 348h1v2h-1zM151 350h1v2h-1zM152 352h1v2h-1zM153 354h1v1h-1zM154 355h1v1h-1zM155 356h1v1h-1zM156 357h1v1h-1zM205 364h1v1h-1zM208 366h1v1h-1zM209 367h1v1h-1zM212 369h1v1h-1zM213 370h1v1h-1zM214 371h1v1h-1zM215 372h1v2h-1zM216 374h1v1h-1zM217 375h1v1h-1zM218 376h1v1h-1zM219 377h1v1h-1zM220 378h1v1h-1zM221 379h1v1h-1zM222 380h1v1h-1zM223 381h1v1h-1zM224 382h1v1h-1zM237 381h1v1h-1zM240 379h1v1h-1zM241 378h1v1h-1zM242 377h1v1h-1zM243 376h1v1h-1zM244 375h1v1h-1zM245 374h1v1h-1zM246 372h1v2h-1zM247 371h1v1h-1zM248 369h1v2h-1zM249 368h1v1h-1zM250 366h1v2h-1zM251 364h1v2h-1zM252 362h1v2h-1zM253 360h1v2h-1zM254 358h1v2h-1zM255 356h1v2h-1zM256 354h1v2h-1zM257 353h1v1h-1zM258 351h1v2h-1zM259 349h1v2h-1zM260 347h1v2h-1zM261 346h1v1h-1zM262 344h1v2h-1zM263 342h1v2h-1zM264 340h1v2h-1zM265 339h1v1h-1zM266 338h1v1h-1zM267 336h1v2h-1zM268 335h1v1h-1zM269 334h1v1h-1zM272 332h1v1h-1zM297 323h1v1h-1zM300 321h1v1h-1zM301 320h1v1h-1zM302 319h1v1h-1zM303 318h1v1h-1zM304 317h1v1h-1zM305 316h1v1h-1zM306 315h1v1h-1zM307 314h1v1h-1zM308 313h1v1h-1zM309 312h1v1h-1zM312 310h1v1h-1zM313 309h1v1h-1zM314 308h1v1h-1zM315 306h1v2h-1zM316 305h1v1h-1zM317 304h1v1h-1zM318 302h1v2h-1zM319 300h1v2h-1zM320 298h1v2h-1zM321 297h1v1h-1zM322 296h1v1h-1zM323 294h1v2h-1zM324 293h1v1h-1zM325 292h1v1h-1zM326 291h1v1h-1zM327 289h1v2h-1zM328 288h1v1h-1zM329 287h1v1h-1zM330 286h1v1h-1zM331 284h1v2h-1zM332 283h1v1h-1zM333 282h1v1h-1zM334 281h1v1h-1zM335 279h1v2h-1zM336 278h1v1h-1zM337 277h1v1h-1zM338 276h1v1h-1zM339 275h1v1h-1zM340 274h1v1h-1zM341 273h1v1h-1zM342 272h1v1h-1zM343 271h1v1h-1zM344 270h1v1h-1zM345 269h1v1h-1zM348 267h1v1h-1zM365 267h1v1h-1zM368 269h1v1h-1zM406 270h1v1h-1zM407 269h1v1h-1zM408 268h1v1h-1zM409 267h1v1h-1zM412 265h1v1h-1zM413 264h1v1h-1zM414 263h1v1h-1zM415 262h1v1h-1zM416 261h1v1h-1zM449 253h1v1h-1zM452 251h1v1h-1zM453 250h1v1h-1zM454 249h1v1h-1zM455 248h1v1h-1zM456 247h1v1h-1zM457 246h1v1h-1zM460 244h1v1h-1zM476 237h1v1h-1zM477 236h1v1h-1zM480 234h1v1h-1zM485 231h1v1h-1zM488 229h1v1h-1zM489 228h1v1h-1zM490 227h1v1h-1zM491 226h1v1h-1zM492 225h1v1h-1zM561 204h1v1h-1zM562 205h1v1h-1zM563 206h1v1h-1zM564 207h1v1h-1zM565 208h1v1h-1zM566 209h1v1h-1zM567 210h1v1h-1zM568 211h1v1h-1zM569 212h1v1h-1zM570 213h1v1h-1zM571 214h1v1h-1zM572 215h1v1h-1zM573 216h1v1h-1zM574 217h1v1h-1zM575 218h1v2h-1zM576 220h1v1h-1zM577 221h1v1h-1zM580 223h1v1h-1zM581 224h1v1h-1zM584 226h1v1h-1zM601 232h1v1h-1zM604 234h1v1h-1zM605 235h1v1h-1zM606 236h1v1h-1zM607 237h1v1h-1zM608 238h1v1h-1zM609 239h1v1h-1zM610 240h1v2h-1zM611 242h1v1h-1zM612 243h1v2h-1zM613 245h1v1h-1zM614 246h1v2h-1zM615 248h1v2h-1zM616 250h1v2h-1zM617 252h1v1h-1zM618 253h1v1h-1zM619 254h1v2h-1zM620 256h1v1h-1zM621 257h1v1h-1zM622 258h1v2h-1zM623 260h1v1h-1zM624 261h1v2h-1zM625 263h1v2h-1zM626 265h1v2h-1zM627 267h1v2h-1zM628 269h1v2h-1zM629 271h1v2h-1zM630 273h1v2h-1zM631 275h1v3h-1zM632 278h1v2h-1zM633 280h1v3h-1zM634 283h1v2h-1zM635 285h1v3h-1zM636 288h1v2h-1zM637 290h1v3h-1zM638 293h1v2h-1zM639 295h1v2h-1zM640 297h1v2h-1zM641 299h1v2h-1zM642 301h1v2h-1zM643 303h1v2h-1zM644 305h1v2h-1zM645 307h1v1h-1zM646 308h1v2h-1zM647 310h1v2h-1zM648 312h1v2h-1zM649 314h1v2h-1zM650 316h1v3h-1zM651 319h1v2h-1zM652 321h1v3h-1zM653 324h1v3h-1zM654 327h1v3h-1zM655 330h1v3h-1zM656 333h1v3h-1zM657 336h1v3h-1zM658 339h1v3h-1zM659 342h1v2h-1zM660 344h1v3h-1zM661 347h1v3h-1zM662 350h1v2h-1zM663 352h1v3h-1zM664 355h1v2h-1zM665 357h1v3h-1zM666 360h1v2h-1zM667 362h1v2h-1zM668 364h1v2h-1zM669 366h1v3h-1zM670 369h1v2h-1zM671 371h1v2h-1zM672 373h1v2h-1zM673 375h1v1h-1zM674 376h1v2h-1zM675 378h1v2h-1zM676 380h1v2h-1zM677 382h1v1h-1zM678 383h1v2h-1zM679 385h1v1h-1zM680 386h1v2h-1zM681 388h1v1h-1zM682 389h1v2h-1zM683 391h1v2h-1zM684 393h1v2h-1zM685 395h1v1h-1zM686 396h1v1h-1zM687 397h1v2h-1zM688 399h1v1h-1zM689 400h1v1h-1zM690 401h1v1h-1zM691 402h1v2h-1zM692 404h1v1h-1zM693 405h1v1h-1zM694 406h1v1h-1zM695 407h1v2h-1zM696 409h1v1h-1zM697 410h1v1h-1zM698 411h1v2h-1zM699 413h1v1h-1zM700 414h1v2h-1zM701 416h1v1h-1zM702 417h1v2h-1zM703 419h1v2h-1zM704 421h1v2h-1zM705 423h1v1h-1zM706 424h1v2h-1zM707 426h1v2h-1zM708 428h1v2h-1zM709 430h1v2h-1zM710 432h1v3h-1zM711 435h1v3h-1zM712 438h1v3h-1zM713 441h1v3h-1zM714 444h1v2h-1zM715 446h1v2h-1zM716 448h1v2h-1zM717 450h1v1h-1zM718 451h1v2h-1zM719 453h1v1h-1zM720 454h1v2h-1zM721 456h1v1h-1zM722 457h1v1h-1zM723 458h1v2h-1zM724 460h1v1h-1zM753 462h1v1h-1zM754 461h1v1h-1zM755 460h1v1h-1zM756 459h1v1h-1zM757 458h1v1h-1zM760 456h1v1h-1zM769 451h1v1h-1zM770 450h1v1h-1zM771 449h1v1h-1zM772 448h1v1h-1zM773 447h1v1h-1zM774 446h1v1h-1zM775 445h1v1h-1zM776 444h1v1h-1zM777 443h1v1h-1zM778 442h1v1h-1zM779 441h1v1h-1zM780 440h1v1h-1zM781 439h1v1h-1zM782 438h1v1h-1zM783 436h1v2h-1zM784 435h1v1h-1zM785 434h1v1h-1zM786 433h1v1h-1zM787 432h1v1h-1zM788 431h1v1h-1zM793 428h1v1h-1zM794 427h1v1h-1zM795 426h1v1h-1zM796 425h1v1h-1zM797 423h1v2h-1zM798 421h1v2h-1zM799 419h1v2h-1zM800 417h1v2h-1zM801 415h1v2h-1zM802 413h1v2h-1zM803 411h1v2h-1zM804 409h1v2h-1zM805 408h1v1h-1zM806 406h1v2h-1zM807 404h1v2h-1zM808 402h1v2h-1zM809 401h1v1h-1zM810 399h1v2h-1zM811 398h1v1h-1zM812 396h1v2h-1zM813 395h1v1h-1zM814 393h1v2h-1zM815 391h1v2h-1zM816 389h1v2h-1zM817 388h1v1h-1zM818 386h1v2h-1zM819 385h1v1h-1zM820 383h1v2h-1zM821 382h1v1h-1zM822 381h1v1h-1zM823 379h1v2h-1zM824 378h1v1h-1zM825 377h1v1h-1zM826 375h1v2h-1zM827 374h1v1h-1zM828 372h1v2h-1zM829 371h1v1h-1zM830 370h1v1h-1zM831 369h1v1h-1zM832 368h1v1h-1zM833 367h1v1h-1zM834 366h1v1h-1zM835 365h1v1h-1zM836 364h1v1h-1zM837 363h1v1h-1zM840 361h1v1h-1zM841 360h1v1h-1zM842 359h1v1h-1zM843 358h1v1h-1zM844 357h1v1h-1zM849 354h1v1h-1zM852 352h1v1h-1zM853 351h1v1h-1zM854 350h1v1h-1zM855 349h1v1h-1zM856 348h1v1h-1zM857 347h1v1h-1zM858 346h1v1h-1zM859 345h1v1h-1zM860 344h1v1h-1zM861 343h1v1h-1zM862 342h1v1h-1zM863 341h1v1h-1zM864 340h1v1h-1zM865 339h1v1h-1zM868 337h1v1h-1zM889 341h1v1h-1zM892 343h1v1h-1zM1017 346h1v1h-1zM1018 347h1v1h-1zM1019 348h1v1h-1zM1020 349h1v1h-1zM1021 350h1v1h-1zM1022 351h1v1h-1zM1023 352h1v1h-1zM1024 353h1v1h-1zM1025 354h1v1h-1zM1026 355h1v1h-1zM1027 356h1v2h-1zM1028 358h1v1h-1zM1029 359h1v1h-1zM1030 360h1v1h-1zM1031 361h1v1h-1zM1032 362h1v1h-1zM1033 363h1v1h-1zM1034 364h1v1h-1zM1035 365h1v1h-1zM1036 366h1v1h-1zM1037 367h1v1h-1zM1038 368h1v1h-1zM1039 369h1v2h-1zM1040 371h1v1h-1zM1041 372h1v1h-1zM1042 373h1v1h-1zM1043 374h1v1h-1zM1044 375h1v1h-1zM1045 376h1v1h-1zM1046 377h1v1h-1zM1047 378h1v2h-1zM1048 380h1v1h-1zM1049 381h1v1h-1zM1050 382h1v1h-1zM1051 383h1v2h-1zM1052 385h1v1h-1zM1053 386h1v1h-1zM1054 387h1v1h-1zM1055 388h1v1h-1zM1056 389h1v1h-1zM1065 394h1v1h-1zM1068 396h1v1h-1zM1069 397h1v1h-1zM1072 399h1v1h-1zM1081 404h1v1h-1zM1084 406h1v1h-1zM1085 407h1v1h-1zM1086 408h1v1h-1zM1087 409h1v1h-1zM1088 410h1v1h-1zM1089 411h1v1h-1zM1090 412h1v1h-1zM1091 413h1v1h-1zM1092 414h1v1h-1zM1133 419h1v1h-1zM1136 417h1v1h-1zM1137 416h1v1h-1zM1140 414h1v1h-1zM1141 413h1v1h-1zM1142 412h1v1h-1zM1143 411h1v1h-1zM1144 410h1v1h-1zM1145 409h1v1h-1zM1146 408h1v1h-1zM1147 406h1v2h-1zM1148 405h1v1h-1zM1149 404h1v1h-1zM1150 403h1v1h-1zM1151 401h1v2h-1zM1152 400h1v1h-1zM1153 399h1v1h-1zM1154 398h1v1h-1zM1155 396h1v2h-1zM1156 395h1v1h-1zM1157 394h1v1h-1zM1158 392h1v2h-1zM1159 391h1v1h-1zM1160 389h1v2h-1zM1161 388h1v1h-1zM1162 387h1v1h-1zM1163 385h1v2h-1zM1164 384h1v1h-1zM1165 383h1v1h-1zM1166 382h1v1h-1zM1167 380h1v2h-1zM1168 379h1v1h-1zM1169 378h1v1h-1zM1170 376h1v2h-1zM1171 375h1v1h-1zM1172 373h1v2h-1zM1173 372h1v1h-1zM1174 371h1v1h-1zM1175 369h1v2h-1zM1176 368h1v1h-1zM1177 367h1v1h-1zM1178 366h1v1h-1zM1179 365h1v1h-1zM1180 364h1v1h-1zM1189 360h1v1h-1zM1192 358h1v1h-1zM1225 356h1v1h-1zM1226 357h1v1h-1zM1227 358h1v1h-1zM1228 359h1v1h-1zM1229 360h1v1h-1zM1232 362h1v1h-1zM1252 370h1v1h-1zM1253 371h1v1h-1zM1254 372h1v1h-1zM1255 373h1v1h-1zM1256 374h1v1h-1zM1257 375h1v1h-1zM1258 376h1v1h-1zM1259 377h1v1h-1zM1260 378h1v1h-1zM1261 379h1v1h-1zM1262 380h1v1h-1zM1263 381h1v2h-1zM1264 383h1v1h-1zM1265 384h1v1h-1zM1266 385h1v2h-1zM1267 387h1v1h-1zM1268 388h1v2h-1zM1269 390h1v2h-1zM1270 392h1v2h-1zM1271 394h1v2h-1zM1272 396h1v2h-1zM1273 398h1v1h-1zM1274 399h1v2h-1zM1275 401h1v2h-1zM1276 403h1v2h-1zM1277 405h1v1h-1zM1278 406h1v2h-1zM1279 408h1v2h-1zM1280 410h1v2h-1zM1281 412h1v2h-1zM1282 414h1v2h-1zM1283 416h1v2h-1zM1284 418h1v2h-1zM1285 420h1v2h-1zM1286 422h1v2h-1zM1287 424h1v2h-1zM1288 426h1v2h-1zM1289 428h1v1h-1zM1290 429h1v2h-1zM1291 431h1v2h-1zM1292 433h1v2h-1zM1293 435h1v2h-1zM1294 437h1v2h-1zM1295 439h1v2h-1zM1296 441h1v2h-1zM1297 443h1v1h-1zM1298 444h1v2h-1zM1299 446h1v1h-1zM1300 447h1v2h-1zM1301 449h1v1h-1zM1302 450h1v1h-1zM1303 451h1v1h-1zM1304 452h1v1h-1zM1305 453h1v1h-1z" fill="#0000cd"/>
<path d="M33 111h3v1h-3zM36 112h2v1h-2zM30 113h2v1h-2zM545 193h7v1h-7zM552 194h4v1h-4zM542 195h2v1h-2zM556 195h2v1h-2zM465 204h2v1h-2zM463 205h2v1h-2zM467 205h2v1h-2zM496 205h4v1h-4zM461 206h2v1h-2zM469 206h2v1h-2zM493 206h3v1h-3zM500 206h4v1h-4zM531 206h2v1h-2zM471 207h2v1h-2zM491 207h2v1h-2zM504 207h4v1h-4zM529 207h2v1h-2zM458 208h2v1h-2zM473 208h3v1h-3zM488 208h3v1h-3zM508 208h4v1h-4zM527 208h2v1h-2zM476 209h12v1h-12zM512 209h4v1h-4zM524 209h3v1h-3zM516 210h8v1h-8zM438 232h2v1h-2zM434 235h2v1h-2zM352 257h2v1h-2zM349 258h3v1h-3zM344 262h2v1h-2zM332 263h12v1h-12zM328 264h4v1h-4zM325 265h3v1h-3zM296 266h4v1h-4zM323 266h2v1h-2zM292 267h4v1h-4zM300 267h3v1h-3zM321 267h2v1h-2zM289 268h3v1h-3zM303 268h2v1h-2zM319 268h2v1h-2zM287 269h2v1h-2zM305 269h2v1h-2zM316 269h3v1h-3zM285 270h2v1h-2zM307 270h2v1h-2zM312 270h4v1h-4zM309 271h3v1h-3zM369 273h2v1h-2zM371 274h2v1h-2zM401 275h2v1h-2zM374 276h2v1h-2zM399 276h2v1h-2zM403 276h2v1h-2zM406 276h2v1h-2zM397 277h2v1h-2zM377 278h2v1h-2zM395 278h2v1h-2zM379 279h2v1h-2zM392 279h3v1h-3zM381 280h3v1h-3zM388 280h4v1h-4zM384 281h4v1h-4zM866 315h2v1h-2zM860 318h2v1h-2zM852 319h8v1h-8zM849 320h3v1h-3zM847 321h2v1h-2zM845 322h2v1h-2zM842 324h2v1h-2zM989 325h5v1h-5zM986 327h2v1h-2zM983 329h2v1h-2zM981 330h2v1h-2zM1179 330h2v1h-2zM1177 331h2v1h-2zM112 332h8v1h-8zM834 332h2v1h-2zM978 332h2v1h-2zM109 333h3v1h-3zM120 333h2v1h-2zM1174 333h2v1h-2zM1185 333h3v1h-3zM107 334h2v1h-2zM831 334h2v1h-2zM975 334h2v1h-2zM1002 334h2v1h-2zM1188 334h4v1h-4zM93 335h2v1h-2zM105 335h2v1h-2zM828 335h3v1h-3zM973 335h2v1h-2zM1192 335h4v1h-4zM95 336h2v1h-2zM103 336h2v1h-2zM825 336h3v1h-3zM1005 336h3v1h-3zM1170 336h2v1h-2zM1196 336h2v1h-2zM97 337h6v1h-6zM823 337h2v1h-2zM970 337h2v1h-2zM1008 337h2v1h-2zM1168 337h2v1h-2zM821 338h2v1h-2zM1010 338h2v1h-2zM1165 338h3v1h-3zM1162 340h2v1h-2zM1158 343h2v1h-2zM949 344h10v1h-10zM959 345h2v1h-2zM964 345h2v1h-2zM946 346h2v1h-2zM961 346h3v1h-3zM1154 346h2v1h-2zM201 355h5v1h-5zM199 356h2v1h-2zM206 356h2v1h-2zM197 357h2v1h-2zM894 357h2v1h-2zM897 359h2v1h-2zM899 360h2v1h-2zM902 362h2v1h-2zM905 364h2v1h-2zM907 365h2v1h-2zM910 367h2v1h-2zM914 370h2v1h-2zM918 373h2v1h-2zM926 373h2v1h-2zM924 374h2v1h-2zM921 375h3v1h-3zM790 380h2v1h-2zM234 381h2v1h-2zM225 383h3v1h-3zM231 383h2v1h-2zM228 384h3v1h-3zM176 387h2v1h-2zM169 388h7v1h-7zM167 389h2v1h-2zM157 390h3v1h-3zM164 390h3v1h-3zM160 391h4v1h-4zM1233 393h2v1h-2zM1118 394h2v1h-2zM1235 394h2v1h-2zM1237 395h2v1h-2zM1239 396h2v1h-2zM1062 456h2v1h-2zM1082 457h2v1h-2zM1065 458h2v1h-2zM1080 458h2v1h-2zM1067 459h2v1h-2zM1076 459h4v1h-4zM1069 460h7v1h-7zM678 463h2v1h-2zM689 474h2v1h-2zM691 475h2v1h-2zM730 475h2v1h-2zM727 477h2v1h-2zM725 478h2v1h-2zM723 479h2v1h-2zM721 480h2v1h-2zM701 484h3v1h-3zM716 484h2v1h-2zM704 485h12v1h-12zM5 195h1v2h-1zM6 191h1v4h-1zM7 188h1v3h-1zM8 184h1v4h-1zM9 181h1v3h-1zM10 177h1v4h-1zM11 173h1v4h-1zM12 169h1v4h-1zM13 165h1v4h-1zM14 161h1v4h-1zM15 157h1v4h-1zM16 153h1v4h-1zM17 149h1v4h-1zM18 145h1v4h-1zM19 141h1v4h-1zM20 137h1v4h-1zM21 134h1v3h-1zM22 130h1v4h-1zM23 127h1v3h-1zM24 123h1v4h-1zM25 121h1v2h-1zM26 119h1v2h-1zM27 117h1v2h-1zM28 115h1v2h-1zM29 114h1v1h-1zM32 112h1v1h-1zM38 113h1v1h-1zM39 114h1v2h-1zM40 116h1v1h-1zM41 117h1v2h-1zM42 119h1v2h-1zM43 121h1v3h-1zM44 124h1v2h-1zM45 126h1v4h-1zM46 130h1v4h-1zM47 134h1v4h-1zM48 138h1v4h-1zM49 142h1v4h-1zM50 146h1v4h-1zM51 150h1v5h-1zM52 155h1v4h-1zM53 159h1v5h-1zM54 164h1v4h-1zM55 168h1v5h-1zM56 173h1v4h-1zM57 177h1v5h-1zM58 182h1v4h-1zM59 186h1v5h-1zM60 191h1v4h-1zM61 195h1v5h-1zM62 200h1v5h-1zM63 205h1v4h-1zM64 209h1v5h-1zM65 214h1v5h-1zM66 219h1v6h-1zM67 225h1v5h-1zM68 230h1v6h-1zM69 236h1v5h-1zM70 241h1v5h-1zM71 246h1v5h-1zM72 251h1v5h-1zM73 256h1v5h-1zM74 261h1v5h-1zM75 266h1v4h-1zM76 270h1v5h-1zM77 275h1v5h-1zM78 280h1v4h-1zM79 284h1v5h-1zM80 289h1v4h-1zM81 293h1v5h-1zM82 298h1v4h-1zM83 302h1v5h-1zM84 307h1v4h-1zM85 311h1v4h-1zM86 315h1v4h-1zM87 319h1v3h-1zM88 322h1v4h-1zM89 326h1v3h-1zM90 329h1v2h-1zM91 331h1v2h-1zM92 333h1v2h-1zM122 334h1v1h-1zM123 335h1v1h-1zM124 336h1v1h-1zM125 337h1v1h-1zM126 338h1v1h-1zM127 339h1v2h-1zM128 341h1v1h-1zM129 342h1v2h-1zM130 344h1v2h-1zM131 346h1v2h-1zM132 348h1v2h-1zM133 350h1v2h-1zM134 352h1v2h-1zM135 354h1v2h-1zM136 356h1v2h-1zM137 358h1v2h-1zM138 360h1v2h-1zM139 362h1v2h-1zM140 364h1v2h-1zM141 366h1v2h-1zM142 368h1v2h-1zM143 370h1v2h-1zM144 372h1v2h-1zM145 374h1v1h-1zM146 375h1v2h-1zM147 377h1v2h-1zM148 379h1v2h-1zM149 381h1v1h-1zM150 382h1v1h-1zM151 383h1v2h-1zM152 385h1v1h-1zM153 386h1v1h-1zM154 387h1v1h-1zM155 388h1v1h-1zM156 389h1v1h-1zM178 386h1v1h-1zM179 385h1v1h-1zM180 384h1v1h-1zM181 383h1v1h-1zM182 381h1v2h-1zM183 380h1v1h-1zM184 378h1v2h-1zM185 377h1v1h-1zM186 375h1v2h-1zM187 373h1v2h-1zM188 371h1v2h-1zM189 369h1v2h-1zM190 367h1v2h-1zM191 365h1v2h-1zM192 363h1v2h-1zM193 362h1v1h-1zM194 361h1v1h-1zM195 359h1v2h-1zM196 358h1v1h-1zM208 357h1v1h-1zM209 358h1v1h-1zM210 359h1v1h-1zM211 360h1v2h-1zM212 362h1v1h-1zM213 363h1v1h-1zM214 364h1v2h-1zM215 366h1v2h-1zM216 368h1v2h-1zM217 370h1v1h-1zM218 371h1v2h-1zM219 373h1v2h-1zM220 375h1v2h-1zM221 377h1v1h-1zM222 378h1v2h-1zM223 380h1v1h-1zM224 381h1v2h-1zM233 382h1v1h-1zM236 380h1v1h-1zM237 379h1v1h-1zM238 378h1v1h-1zM239 376h1v2h-1zM240 375h1v1h-1zM241 374h1v1h-1zM242 372h1v2h-1zM243 370h1v2h-1zM244 368h1v2h-1zM245 366h1v2h-1zM246 364h1v2h-1zM247 361h1v3h-1zM248 359h1v2h-1zM249 356h1v3h-1zM250 353h1v3h-1zM251 350h1v3h-1zM252 347h1v3h-1zM253 344h1v3h-1zM254 341h1v3h-1zM255 338h1v3h-1zM256 335h1v3h-1zM257 332h1v3h-1zM258 329h1v3h-1zM259 326h1v3h-1zM260 323h1v3h-1zM261 320h1v3h-1zM262 317h1v3h-1zM263 315h1v2h-1zM264 312h1v3h-1zM265 309h1v3h-1zM266 307h1v2h-1zM267 305h1v2h-1zM268 303h1v2h-1zM269 301h1v2h-1zM270 299h1v2h-1zM271 297h1v2h-1zM272 295h1v2h-1zM273 293h1v2h-1zM274 291h1v2h-1zM275 288h1v3h-1zM276 286h1v2h-1zM277 283h1v3h-1zM278 281h1v2h-1zM279 279h1v2h-1zM280 277h1v2h-1zM281 275h1v2h-1zM282 274h1v1h-1zM283 272h1v2h-1zM284 271h1v1h-1zM346 261h1v1h-1zM347 260h1v1h-1zM348 259h1v1h-1zM354 258h1v1h-1zM355 259h1v1h-1zM356 260h1v1h-1zM357 261h1v1h-1zM358 262h1v1h-1zM359 263h1v1h-1zM360 264h1v1h-1zM361 265h1v1h-1zM362 266h1v1h-1zM363 267h1v1h-1zM364 268h1v1h-1zM365 269h1v1h-1zM366 270h1v1h-1zM367 271h1v1h-1zM368 272h1v1h-1zM373 275h1v1h-1zM376 277h1v1h-1zM405 277h1v1h-1zM408 275h1v1h-1zM409 274h1v1h-1zM410 272h1v2h-1zM411 271h1v1h-1zM412 269h1v2h-1zM413 267h1v2h-1zM414 265h1v2h-1zM415 263h1v2h-1zM416 261h1v2h-1zM417 259h1v2h-1zM418 257h1v2h-1zM419 255h1v2h-1zM420 253h1v2h-1zM421 252h1v1h-1zM422 250h1v2h-1zM423 248h1v2h-1zM424 246h1v2h-1zM425 245h1v1h-1zM426 244h1v1h-1zM427 242h1v2h-1zM428 241h1v1h-1zM429 240h1v1h-1zM430 239h1v1h-1zM431 238h1v1h-1zM432 237h1v1h-1zM433 236h1v1h-1zM436 234h1v1h-1zM437 233h1v1h-1zM440 231h1v1h-1zM441 230h1v1h-1zM442 229h1v1h-1zM443 228h1v1h-1zM444 227h1v1h-1zM445 226h1v1h-1zM446 224h1v2h-1zM447 223h1v1h-1zM448 221h1v2h-1zM449 220h1v1h-1zM450 219h1v1h-1zM451 217h1v2h-1zM452 216h1v1h-1zM453 215h1v1h-1zM454 213h1v2h-1zM455 212h1v1h-1zM456 210h1v2h-1zM457 209h1v1h-1zM460 207h1v1h-1zM533 205h1v1h-1zM534 204h1v1h-1zM535 203h1v1h-1zM536 202h1v1h-1zM537 201h1v1h-1zM538 200h1v1h-1zM539 198h1v2h-1zM540 197h1v1h-1zM541 196h1v1h-1zM544 194h1v1h-1zM558 196h1v1h-1zM559 197h1v1h-1zM560 198h1v1h-1zM561 199h1v1h-1zM562 200h1v2h-1zM563 202h1v1h-1zM564 203h1v2h-1zM565 205h1v2h-1zM566 207h1v2h-1zM567 209h1v2h-1zM568 211h1v2h-1zM569 213h1v2h-1zM570 215h1v2h-1zM571 217h1v3h-1zM572 220h1v2h-1zM573 222h1v3h-1zM574 225h1v2h-1zM575 227h1v2h-1zM576 229h1v2h-1zM577 231h1v3h-1zM578 234h1v2h-1zM579 236h1v2h-1zM580 238h1v2h-1zM581 240h1v2h-1zM582 242h1v2h-1zM583 244h1v2h-1zM584 246h1v2h-1zM585 248h1v2h-1zM586 250h1v2h-1zM587 252h1v2h-1zM588 254h1v2h-1zM589 256h1v1h-1zM590 257h1v2h-1zM591 259h1v2h-1zM592 261h1v2h-1zM593 263h1v1h-1zM594 264h1v1h-1zM595 265h1v2h-1zM596 267h1v1h-1zM597 268h1v1h-1zM598 269h1v2h-1zM599 271h1v1h-1zM600 272h1v2h-1zM601 274h1v1h-1zM602 275h1v2h-1zM603 277h1v1h-1zM604 278h1v2h-1zM605 280h1v2h-1zM606 282h1v2h-1zM607 284h1v3h-1zM608 287h1v2h-1zM609 289h1v3h-1zM610 292h1v2h-1zM611 294h1v3h-1zM612 297h1v2h-1zM613 299h1v3h-1zM614 302h1v2h-1zM615 304h1v2h-1zM616 306h1v2h-1zM617 308h1v1h-1zM618 309h1v2h-1zM619 311h1v1h-1zM620 312h1v2h-1zM621 314h1v1h-1zM622 315h1v1h-1zM623 316h1v2h-1zM624 318h1v1h-1zM625 319h1v1h-1zM626 320h1v2h-1zM627 322h1v2h-1zM628 324h1v2h-1zM629 326h1v2h-1zM630 328h1v2h-1zM631 330h1v3h-1zM632 333h1v2h-1zM633 335h1v3h-1zM634 338h1v3h-1zM635 341h1v2h-1zM636 343h1v3h-1zM637 346h1v3h-1zM638 349h1v3h-1zM639 352h1v2h-1zM640 354h1v3h-1zM641 357h1v3h-1zM642 360h1v3h-1zM643 363h1v3h-1zM644 366h1v3h-1zM645 369h1v4h-1zM646 373h1v4h-1zM647 377h1v4h-1zM648 381h1v4h-1zM649 385h1v4h-1zM650 389h1v4h-1zM651 393h1v4h-1zM652 397h1v4h-1zM653 401h1v4h-1zM654 405h1v4h-1zM655 409h1v4h-1zM656 413h1v4h-1zM657 417h1v5h-1zM658 422h1v4h-1zM659 426h1v4h-1zM660 430h1v4h-1zM661 434h1v4h-1zM662 438h1v2h-1zM663 440h1v3h-1zM664 443h1v2h-1zM665 445h1v2h-1zM666 447h1v2h-1zM667 449h1v1h-1zM668 450h1v2h-1zM669 452h1v1h-1zM670 453h1v1h-1zM671 454h1v2h-1zM672 456h1v1h-1zM673 457h1v1h-1zM674 458h1v1h-1zM675 459h1v2h-1zM676 461h1v1h-1zM677 462h1v1h-1zM680 464h1v1h-1zM681 465h1v1h-1zM682 466h1v1h-1zM683 467h1v1h-1zM684 468h1v1h-1zM685 469h1v1h-1zM686 470h1v1h-1zM687 471h1v2h-1zM688 473h1v1h-1zM693 476h1v1h-1zM694 477h1v1h-1zM695 478h1v1h-1zM696 479h1v1h-1zM697 480h1v1h-1zM698 481h1v1h-1zM699 482h1v1h-1zM700 483h1v1h-1zM718 483h1v1h-1zM719 482h1v1h-1zM720 481h1v1h-1zM729 476h1v1h-1zM732 474h1v1h-1zM733 473h1v1h-1zM734 472h1v1h-1zM735 470h1v2h-1zM736 469h1v1h-1zM737 468h1v1h-1zM738 466h1v2h-1zM739 464h1v2h-1zM740 462h1v2h-1zM741 461h1v1h-1zM742 459h1v2h-1zM743 457h1v2h-1zM744 455h1v2h-1zM745 454h1v1h-1zM746 452h1v2h-1zM747 451h1v1h-1zM748 449h1v2h-1zM749 448h1v1h-1zM750 446h1v2h-1zM751 444h1v2h-1zM752 442h1v2h-1zM753 440h1v2h-1zM754 438h1v2h-1zM755 436h1v2h-1zM756 434h1v2h-1zM757 432h1v2h-1zM758 430h1v2h-1zM759 428h1v2h-1zM760 426h1v2h-1zM761 425h1v1h-1zM762 423h1v2h-1zM763 422h1v1h-1zM764 420h1v2h-1zM765 418h1v2h-1zM766 416h1v2h-1zM767 414h1v2h-1zM768 412h1v2h-1zM769 409h1v3h-1zM770 407h1v2h-1zM771 405h1v2h-1zM772 403h1v2h-1zM773 401h1v2h-1zM774 399h1v2h-1zM775 397h1v2h-1zM776 395h1v2h-1zM777 394h1v1h-1zM778 393h1v1h-1zM779 391h1v2h-1zM780 390h1v1h-1zM781 389h1v1h-1zM782 388h1v1h-1zM783 387h1v1h-1zM784 386h1v1h-1zM785 385h1v1h-1zM786 384h1v1h-1zM787 383h1v1h-1zM788 382h1v1h-1zM789 381h1v1h-1zM792 379h1v1h-1zM793 378h1v1h-1zM794 376h1v2h-1zM795 375h1v1h-1zM796 373h1v2h-1zM797 371h1v2h-1zM798 369h1v2h-1zM799 366h1v3h-1zM800 364h1v2h-1zM801 362h1v2h-1zM802 360h1v2h-1zM803 359h1v1h-1zM804 357h1v2h-1zM805 356h1v1h-1zM806 355h1v1h-1zM807 353h1v2h-1zM808 352h1v1h-1zM809 351h1v1h-1zM810 350h1v1h-1zM811 349h1v1h-1zM812 348h1v1h-1zM813 347h1v1h-1zM814 346h1v1h-1zM815 344h1v2h-1zM816 343h1v1h-1zM817 342h1v1h-1zM818 341h1v1h-1zM819 340h1v1h-1zM820 339h1v1h-1zM833 333h1v1h-1zM836 331h1v1h-1zM837 330h1v1h-1zM838 329h1v1h-1zM839 327h1v2h-1zM840 326h1v1h-1zM841 325h1v1h-1zM844 323h1v1h-1zM862 317h1v1h-1zM863 316h1v1h-1zM864 315h1v1h-1zM865 314h1v1h-1zM868 316h1v1h-1zM869 317h1v1h-1zM870 318h1v2h-1zM871 320h1v1h-1zM872 321h1v2h-1zM873 323h1v1h-1zM874 324h1v1h-1zM875 325h1v2h-1zM876 327h1v1h-1zM877 328h1v2h-1zM878 330h1v2h-1zM879 332h1v2h-1zM880 334h1v2h-1zM881 336h1v2h-1zM882 338h1v2h-1zM883 340h1v2h-1zM884 342h1v2h-1zM885 344h1v2h-1zM886 346h1v2h-1zM887 348h1v1h-1zM888 349h1v2h-1zM889 351h1v1h-1zM890 352h1v1h-1zM891 353h1v2h-1zM892 355h1v1h-1zM893 356h1v1h-1zM896 358h1v1h-1zM901 361h1v1h-1zM904 363h1v1h-1zM909 366h1v1h-1zM912 368h1v1h-1zM913 369h1v1h-1zM916 371h1v1h-1zM917 372h1v1h-1zM920 374h1v1h-1zM928 372h1v1h-1zM929 371h1v1h-1zM930 370h1v1h-1zM931 369h1v1h-1zM932 368h1v1h-1zM933 367h1v1h-1zM934 366h1v1h-1zM935 364h1v2h-1zM936 363h1v1h-1zM937 361h1v2h-1zM938 359h1v2h-1zM939 357h1v2h-1zM940 355h1v2h-1zM941 353h1v2h-1zM942 351h1v2h-1zM943 350h1v1h-1zM944 348h1v2h-1zM945 347h1v1h-1zM948 345h1v1h-1zM966 343h1v2h-1zM967 341h1v2h-1zM968 339h1v2h-1zM969 338h1v1h-1zM972 336h1v1h-1zM977 333h1v1h-1zM980 331h1v1h-1zM985 328h1v1h-1zM988 326h1v1h-1zM994 326h1v1h-1zM995 327h1v1h-1zM996 328h1v1h-1zM997 329h1v1h-1zM998 330h1v1h-1zM999 331h1v1h-1zM1000 332h1v1h-1zM1001 333h1v1h-1zM1004 335h1v1h-1zM1012 339h1v1h-1zM1013 340h1v1h-1zM1014 341h1v1h-1zM1015 342h1v2h-1zM1016 344h1v1h-1zM1017 345h1v2h-1zM1018 347h1v2h-1zM1019 349h1v2h-1zM1020 351h1v2h-1zM1021 353h1v2h-1zM1022 355h1v3h-1zM1023 358h1v3h-1zM1024 361h1v3h-1zM1025 364h1v3h-1zM1026 367h1v3h-1zM1027 370h1v2h-1zM1028 372h1v3h-1zM1029 375h1v3h-1zM1030 378h1v3h-1zM1031 381h1v3h-1zM1032 384h1v3h-1zM1033 387h1v3h-1zM1034 390h1v3h-1zM1035 393h1v4h-1zM1036 397h1v3h-1zM1037 400h1v3h-1zM1038 403h1v3h-1zM1039 406h1v4h-1zM1040 410h1v3h-1zM1041 413h1v3h-1zM1042 416h1v3h-1zM1043 419h1v4h-1zM1044 423h1v3h-1zM1045 426h1v3h-1zM1046 429h1v3h-1zM1047 432h1v3h-1zM1048 435h1v3h-1zM1049 438h1v2h-1zM1050 440h1v2h-1zM1051 442h1v2h-1zM1052 444h1v2h-1zM1053 446h1v1h-1zM1054 447h1v1h-1zM1055 448h1v2h-1zM1056 450h1v1h-1zM1057 451h1v1h-1zM1058 452h1v1h-1zM1059 453h1v1h-1zM1060 454h1v1h-1zM1061 455h1v1h-1zM1064 457h1v1h-1zM1084 456h1v1h-1zM1085 455h1v1h-1zM1086 454h1v1h-1zM1087 452h1v2h-1zM1088 451h1v1h-1zM1089 450h1v1h-1zM1090 448h1v2h-1zM1091 447h1v1h-1zM1092 445h1v2h-1zM1093 443h1v2h-1zM1094 441h1v2h-1zM1095 439h1v2h-1zM1096 437h1v2h-1zM1097 434h1v3h-1zM1098 432h1v2h-1zM1099 429h1v3h-1zM1100 427h1v2h-1zM1101 424h1v3h-1zM1102 422h1v2h-1zM1103 419h1v3h-1zM1104 417h1v2h-1zM1105 414h1v3h-1zM1106 412h1v2h-1zM1107 410h1v2h-1zM1108 408h1v2h-1zM1109 406h1v2h-1zM1110 404h1v2h-1zM1111 402h1v2h-1zM1112 400h1v2h-1zM1113 399h1v1h-1zM1114 398h1v1h-1zM1115 397h1v1h-1zM1116 396h1v1h-1zM1117 395h1v1h-1zM1120 393h1v1h-1zM1121 392h1v1h-1zM1122 391h1v1h-1zM1123 390h1v1h-1zM1124 389h1v1h-1zM1125 388h1v1h-1zM1126 386h1v2h-1zM1127 385h1v1h-1zM1128 383h1v2h-1zM1129 382h1v1h-1zM1130 380h1v2h-1zM1131 378h1v2h-1zM1132 376h1v2h-1zM1133 375h1v1h-1zM1134 373h1v2h-1zM1135 372h1v1h-1zM1136 370h1v2h-1zM1137 369h1v1h-1zM1138 367h1v2h-1zM1139 365h1v2h-1zM1140 363h1v2h-1zM1141 362h1v1h-1zM1142 360h1v2h-1zM1143 359h1v1h-1zM1144 357h1v2h-1zM1145 356h1v1h-1zM1146 355h1v1h-1zM1147 353h1v2h-1zM1148 352h1v1h-1zM1149 351h1v1h-1zM1150 350h1v1h-1zM1151 349h1v1h-1zM1152 348h1v1h-1zM1153 347h1v1h-1zM1156 345h1v1h-1zM1157 344h1v1h-1zM1160 342h1v1h-1zM1161 341h1v1h-1zM1164 339h1v1h-1zM1172 335h1v1h-1zM1173 334h1v1h-1zM1176 332h1v1h-1zM1181 329h1v1h-1zM1182 330h1v1h-1zM1183 331h1v1h-1zM1184 332h1v1h-1zM1198 337h1v1h-1zM1199 338h1v1h-1zM1200 339h1v1h-1zM1201 340h1v1h-1zM1202 341h1v1h-1zM1203 342h1v2h-1zM1204 344h1v1h-1zM1205 345h1v1h-1zM1206 346h1v1h-1zM1207 347h1v2h-1zM1208 349h1v1h-1zM1209 350h1v1h-1zM1210 351h1v2h-1zM1211 353h1v1h-1zM1212 354h1v2h-1zM1213 356h1v1h-1zM1214 357h1v2h-1zM1215 359h1v1h-1zM1216 360h1v2h-1zM1217 362h1v1h-1zM1218 363h1v2h-1zM1219 365h1v1h-1zM1220 366h1v2h-1zM1221 368h1v2h-1zM1222 370h1v2h-1zM1223 372h1v2h-1zM1224 374h1v2h-1zM1225 376h1v2h-1zM1226 378h1v2h-1zM1227 380h1v3h-1zM1228 383h1v2h-1zM1229 385h1v2h-1zM1230 387h1v2h-1zM1231 389h1v2h-1zM1232 391h1v2h-1zM1241 397h1v1h-1zM1242 398h1v1h-1zM1243 399h1v2h-1zM1244 401h1v1h-1zM1245 402h1v1h-1zM1246 403h1v1h-1zM1247 404h1v2h-1zM1248 406h1v1h-1zM1249 407h1v1h-1zM1250 408h1v1h-1zM1251 409h1v2h-1zM1252 411h1v1h-1zM1253 412h1v1h-1zM1254 413h1v2h-1zM1255 415h1v1h-1zM1256 416h1v2h-1zM1257 418h1v1h-1zM1258 419h1v2h-1zM1259 421h1v1h-1zM1260 422h1v2h-1zM1261 424h1v1h-1zM1262 425h1v2h-1zM1263 427h1v1h-1zM1264 428h1v2h-1zM1265 430h1v1h-1zM1266 431h1v2h-1zM1267 433h1v1h-1zM1268 434h1v2h-1zM1269 436h1v2h-1zM1270 438h1v3h-1zM1271 441h1v2h-1zM1272 443h1v3h-1zM1273 446h1v3h-1zM1274 449h1v3h-1zM1275 452h1v2h-1zM1276 454h1v3h-1zM1277 457h1v3h-1zM1278 460h1v2h-1zM1279 462h1v2h-1zM1280 464h1v2h-1zM1281 466h1v3h-1zM1282 469h1v2h-1zM1283 471h1v2h-1zM1284 473h1v2h-1zM1285 475h1v2h-1zM1286 477h1v2h-1zM1287 479h1v2h-1zM1288 481h1v2h-1zM1289 483h1v2h-1zM1290 485h1v2h-1zM1291 487h1v2h-1zM1292 489h1v2h-1zM1293 491h1v2h-1zM1294 493h1v2h-1zM1295 495h1v2h-1zM1296 497h1v2h-1zM1297 499h1v1h-1zM1298 500h1v2h-1zM1299 502h1v2h-1zM1300 504h1v2h-1zM1301 506h1v1h-1zM1302 507h1v2h-1zM1303 509h1v1h-1zM1304 510h1v2h-1zM1305 512h1v1h-1z" fill="#ff0000"/>
<path d="M23 71h2v1h-2zM21 72h2v1h-2zM548 161h2v1h-2zM545 162h3v1h-3zM465 202h3v1h-3zM468 203h4v1h-4zM472 204h4v1h-4zM476 205h2v1h-2zM526 208h2v1h-2zM481 209h2v1h-2zM498 209h2v1h-2zM438 210h2v1h-2zM483 210h2v1h-2zM523 210h2v1h-2zM501 211h3v1h-3zM521 211h2v1h-2zM441 212h2v1h-2zM504 212h3v1h-3zM443 213h2v1h-2zM507 213h2v1h-2zM518 213h2v1h-2zM509 214h3v1h-3zM516 214h2v1h-2zM512 215h4v1h-4zM450 218h2v1h-2zM261 229h3v1h-3zM264 230h2v1h-2zM604 252h2v1h-2zM604 253h2v1h-2zM401 269h5v1h-5zM399 270h2v1h-2zM397 271h2v1h-2zM354 273h2v1h-2zM358 276h2v1h-2zM361 278h5v1h-5zM385 279h9v1h-9zM374 291h2v1h-2zM292 296h2v1h-2zM289 297h3v1h-3zM985 300h5v1h-5zM982 302h2v1h-2zM107 305h3v1h-3zM105 306h2v1h-2zM829 314h3v1h-3zM832 315h2v1h-2zM816 316h2v1h-2zM813 317h3v1h-3zM837 320h3v1h-3zM840 321h4v1h-4zM844 322h3v1h-3zM1152 322h11v1h-11zM847 323h2v1h-2zM1149 323h3v1h-3zM1163 323h2v1h-2zM849 324h5v1h-5zM1166 325h2v1h-2zM1176 326h2v1h-2zM1169 327h7v1h-7zM581 329h2v1h-2zM180 333h2v1h-2zM177 334h3v1h-3zM174 336h2v1h-2zM171 338h2v1h-2zM169 339h2v1h-2zM933 339h11v1h-11zM192 340h2v1h-2zM931 340h2v1h-2zM944 340h3v1h-3zM188 341h4v1h-4zM929 341h2v1h-2zM947 341h2v1h-2zM185 342h3v1h-3zM921 342h3v1h-3zM927 342h2v1h-2zM924 343h3v1h-3zM950 343h2v1h-2zM918 344h2v1h-2zM87 345h2v1h-2zM81 346h6v1h-6zM954 346h2v1h-2zM78 348h2v1h-2zM957 348h2v1h-2zM959 349h2v1h-2zM66 350h2v1h-2zM74 351h2v1h-2zM69 352h5v1h-5zM784 352h2v1h-2zM781 353h3v1h-3zM786 353h2v1h-2zM778 355h2v1h-2zM1204 363h2v1h-2zM793 364h2v1h-2zM1117 365h6v1h-6zM1197 365h3v1h-3zM1115 366h2v1h-2zM1123 366h2v1h-2zM1200 366h2v1h-2zM1113 367h2v1h-2zM1125 367h2v1h-2zM1127 368h2v1h-2zM217 412h2v1h-2zM219 413h2v1h-2zM222 415h2v1h-2zM893 415h2v1h-2zM224 416h2v1h-2zM747 416h2v1h-2zM745 417h2v1h-2zM743 418h2v1h-2zM1254 418h2v1h-2zM741 419h2v1h-2zM1083 426h2v1h-2zM1081 427h2v1h-2zM1078 429h2v1h-2zM1242 429h2v1h-2zM1239 431h2v1h-2zM1237 432h2v1h-2zM145 450h2v1h-2zM645 460h3v1h-3zM648 461h2v1h-2zM677 462h2v1h-2zM679 463h2v1h-2zM659 470h2v1h-2zM657 471h2v1h-2zM666 474h2v1h-2zM1054 486h2v1h-2zM697 505h2v1h-2zM699 506h2v1h-2zM1289 552h5v1h-5zM5 106h1v2h-1zM6 103h1v3h-1zM7 101h1v2h-1zM8 98h1v3h-1zM9 95h1v3h-1zM10 92h1v3h-1zM11 90h1v2h-1zM12 87h1v3h-1zM13 85h1v2h-1zM14 83h1v2h-1zM15 81h1v2h-1zM16 79h1v2h-1zM17 78h1v1h-1zM18 76h1v2h-1zM19 75h1v1h-1zM20 73h1v2h-1zM25 70h1v1h-1zM26 71h1v1h-1zM27 72h1v1h-1zM28 73h1v1h-1zM29 74h1v3h-1zM30 77h1v5h-1zM31 82h1v5h-1zM32 87h1v5h-1zM33 92h1v7h-1zM34 99h1v8h-1zM35 107h1v9h-1zM36 116h1v8h-1zM37 124h1v10h-1zM38 134h1v11h-1zM39 145h1v12h-1zM40 157h1v11h-1zM41 168h1v10h-1zM42 178h1v10h-1zM43 188h1v9h-1zM44 197h1v10h-1zM45 207h1v11h-1zM46 218h1v12h-1zM47 230h1v12h-1zM48 242h1v12h-1zM49 254h1v11h-1zM50 265h1v9h-1zM51 274h1v8h-1zM52 282h1v9h-1zM53 291h1v8h-1zM54 299h1v6h-1zM55 305h1v6h-1zM56 311h1v6h-1zM57 317h1v6h-1zM58 323h1v4h-1zM59 327h1v5h-1zM60 332h1v4h-1zM61 336h1v4h-1zM62 340h1v3h-1zM63 343h1v2h-1zM64 345h1v3h-1zM65 348h1v2h-1zM68 351h1v1h-1zM76 350h1v1h-1zM77 349h1v1h-1zM80 347h1v1h-1zM89 344h1v1h-1zM90 343h1v1h-1zM91 341h1v2h-1zM92 340h1v1h-1zM93 338h1v2h-1zM94 335h1v3h-1zM95 332h1v3h-1zM96 329h1v3h-1zM97 326h1v3h-1zM98 323h1v3h-1zM99 320h1v3h-1zM100 317h1v3h-1zM101 314h1v3h-1zM102 312h1v2h-1zM103 310h1v2h-1zM104 308h1v2h-1zM105 307h1v1h-1zM109 304h1v1h-1zM110 306h1v2h-1zM111 308h1v2h-1zM112 310h1v2h-1zM113 312h1v3h-1zM114 315h1v3h-1zM115 318h1v3h-1zM116 321h1v3h-1zM117 324h1v3h-1zM118 327h1v2h-1zM119 329h1v2h-1zM120 331h1v2h-1zM121 333h1v4h-1zM122 337h1v5h-1zM123 342h1v5h-1zM124 347h1v5h-1zM125 352h1v6h-1zM126 358h1v6h-1zM127 364h1v6h-1zM128 370h1v6h-1zM129 376h1v6h-1zM130 382h1v5h-1zM131 387h1v5h-1zM132 392h1v5h-1zM133 397h1v5h-1zM134 402h1v5h-1zM135 407h1v5h-1zM136 412h1v5h-1zM137 417h1v5h-1zM138 422h1v5h-1zM139 427h1v6h-1zM140 433h1v5h-1zM141 438h1v4h-1zM142 442h1v3h-1zM143 445h1v2h-1zM144 447h1v3h-1zM145 451h1v1h-1zM146 449h1v1h-1zM147 447h1v2h-1zM148 445h1v2h-1zM149 442h1v3h-1zM150 436h1v6h-1zM151 430h1v6h-1zM152 424h1v6h-1zM153 419h1v5h-1zM154 413h1v6h-1zM155 407h1v6h-1zM156 401h1v6h-1zM157 395h1v6h-1zM158 389h1v6h-1zM159 382h1v7h-1zM160 376h1v6h-1zM161 369h1v7h-1zM162 362h1v7h-1zM163 356h1v6h-1zM164 349h1v7h-1zM165 345h1v4h-1zM166 343h1v2h-1zM167 342h1v1h-1zM168 340h1v2h-1zM173 337h1v1h-1zM176 335h1v1h-1zM181 334h1v1h-1zM182 335h1v2h-1zM183 337h1v2h-1zM184 339h1v2h-1zM185 341h1v1h-1zM193 341h1v2h-1zM194 343h1v5h-1zM195 348h1v5h-1zM196 353h1v5h-1zM197 358h1v5h-1zM198 363h1v4h-1zM199 367h1v5h-1zM200 372h1v4h-1zM201 376h1v5h-1zM202 381h1v4h-1zM203 385h1v4h-1zM204 389h1v4h-1zM205 393h1v3h-1zM206 396h1v1h-1zM207 397h1v2h-1zM208 399h1v1h-1zM209 400h1v1h-1zM210 401h1v2h-1zM211 403h1v2h-1zM212 405h1v2h-1zM213 407h1v1h-1zM214 408h1v1h-1zM215 409h1v2h-1zM216 411h1v1h-1zM221 414h1v1h-1zM225 417h1v1h-1zM226 413h1v3h-1zM227 411h1v2h-1zM228 408h1v3h-1zM229 404h1v4h-1zM230 399h1v5h-1zM231 394h1v5h-1zM232 389h1v5h-1zM233 384h1v5h-1zM234 380h1v4h-1zM235 376h1v4h-1zM236 372h1v4h-1zM237 365h1v7h-1zM238 356h1v9h-1zM239 348h1v8h-1zM240 339h1v9h-1zM241 330h1v9h-1zM242 321h1v9h-1zM243 313h1v8h-1zM244 304h1v9h-1zM245 295h1v9h-1zM246 287h1v8h-1zM247 278h1v9h-1zM248 270h1v8h-1zM249 263h1v7h-1zM250 259h1v4h-1zM251 255h1v4h-1zM252 251h1v4h-1zM253 247h1v4h-1zM254 244h1v3h-1zM255 241h1v3h-1zM256 238h1v3h-1zM257 236h1v2h-1zM258 234h1v2h-1zM259 232h1v2h-1zM260 230h1v2h-1zM265 231h1v2h-1zM266 233h1v4h-1zM267 237h1v5h-1zM268 242h1v4h-1zM269 246h1v5h-1zM270 251h1v4h-1zM271 255h1v4h-1zM272 259h1v4h-1zM273 263h1v3h-1zM274 266h1v3h-1zM275 269h1v2h-1zM276 271h1v3h-1zM277 274h1v3h-1zM278 277h1v2h-1zM279 279h1v2h-1zM280 281h1v2h-1zM281 283h1v2h-1zM282 285h1v2h-1zM283 287h1v2h-1zM284 289h1v2h-1zM285 291h1v1h-1zM286 292h1v2h-1zM287 294h1v1h-1zM288 295h1v2h-1zM294 295h1v1h-1zM295 293h1v2h-1zM296 292h1v1h-1zM297 290h1v2h-1zM298 288h1v2h-1zM299 285h1v3h-1zM300 283h1v2h-1zM301 280h1v3h-1zM302 276h1v4h-1zM303 273h1v3h-1zM304 269h1v4h-1zM305 266h1v3h-1zM306 263h1v3h-1zM307 259h1v4h-1zM308 256h1v3h-1zM309 253h1v3h-1zM310 251h1v2h-1zM311 248h1v3h-1zM312 246h1v2h-1zM313 243h1v3h-1zM314 241h1v2h-1zM315 239h1v2h-1zM316 237h1v2h-1zM317 236h1v1h-1zM318 235h1v1h-1zM319 234h1v1h-1zM320 233h1v1h-1zM321 232h1v1h-1zM322 233h1v2h-1zM323 235h1v2h-1zM324 237h1v2h-1zM325 239h1v2h-1zM326 241h1v2h-1zM327 243h1v3h-1zM328 246h1v2h-1zM329 248h1v3h-1zM330 251h1v2h-1zM331 253h1v2h-1zM332 255h1v2h-1zM333 257h1v1h-1zM334 258h1v2h-1zM335 260h1v2h-1zM336 262h1v2h-1zM337 264h1v3h-1zM338 267h1v4h-1zM339 271h1v4h-1zM340 275h1v4h-1zM341 279h1v2h-1zM342 281h1v1h-1zM343 282h1v2h-1zM344 284h1v1h-1zM345 285h1v1h-1zM346 284h1v1h-1zM347 282h1v2h-1zM348 281h1v1h-1zM349 279h1v2h-1zM350 277h1v2h-1zM351 275h1v2h-1zM352 273h1v2h-1zM353 272h1v1h-1zM356 274h1v1h-1zM357 275h1v1h-1zM360 277h1v1h-1zM366 279h1v2h-1zM367 281h1v2h-1zM368 283h1v2h-1zM369 285h1v1h-1zM370 286h1v2h-1zM371 288h1v2h-1zM372 290h1v2h-1zM373 292h1v1h-1zM376 290h1v1h-1zM377 289h1v1h-1zM378 288h1v1h-1zM379 286h1v2h-1zM380 285h1v1h-1zM381 284h1v1h-1zM382 283h1v1h-1zM383 281h1v2h-1zM384 280h1v1h-1zM393 278h1v1h-1zM394 276h1v2h-1zM395 274h1v2h-1zM396 272h1v2h-1zM405 268h1v1h-1zM406 266h1v2h-1zM407 263h1v3h-1zM408 261h1v2h-1zM409 257h1v4h-1zM410 253h1v4h-1zM411 248h1v5h-1zM412 244h1v4h-1zM413 239h1v5h-1zM414 235h1v4h-1zM415 230h1v5h-1zM416 226h1v4h-1zM417 222h1v4h-1zM418 219h1v3h-1zM419 215h1v4h-1zM420 212h1v3h-1zM421 209h1v3h-1zM422 206h1v3h-1zM423 204h1v2h-1zM424 201h1v3h-1zM425 199h1v2h-1zM426 198h1v1h-1zM427 197h1v1h-1zM428 196h1v1h-1zM429 195h1v1h-1zM430 196h1v2h-1zM431 198h1v2h-1zM432 200h1v2h-1zM433 202h1v1h-1zM434 203h1v2h-1zM435 205h1v2h-1zM436 207h1v2h-1zM437 209h1v1h-1zM440 211h1v1h-1zM445 214h1v1h-1zM446 215h1v1h-1zM447 216h1v2h-1zM448 218h1v1h-1zM449 219h1v1h-1zM452 217h1v1h-1zM453 216h1v1h-1zM454 215h1v1h-1zM455 213h1v2h-1zM456 212h1v1h-1zM457 211h1v1h-1zM458 210h1v1h-1zM459 208h1v2h-1zM460 207h1v1h-1zM461 206h1v1h-1zM462 205h1v1h-1zM463 204h1v1h-1zM464 203h1v1h-1zM478 206h1v1h-1zM479 207h1v1h-1zM480 208h1v1h-1zM485 211h1v1h-1zM486 210h1v1h-1zM487 209h1v1h-1zM488 208h1v1h-1zM489 207h1v1h-1zM490 206h1v1h-1zM491 205h1v1h-1zM492 204h1v1h-1zM493 203h1v1h-1zM494 204h1v1h-1zM495 205h1v2h-1zM496 207h1v1h-1zM497 208h1v1h-1zM500 210h1v1h-1zM520 212h1v1h-1zM525 209h1v1h-1zM528 207h1v1h-1zM529 205h1v2h-1zM530 203h1v2h-1zM531 201h1v2h-1zM532 199h1v2h-1zM533 196h1v3h-1zM534 193h1v3h-1zM535 191h1v2h-1zM536 188h1v3h-1zM537 185h1v3h-1zM538 182h1v3h-1zM539 180h1v2h-1zM540 177h1v3h-1zM541 174h1v3h-1zM542 171h1v3h-1zM543 167h1v4h-1zM544 164h1v3h-1zM545 163h1v1h-1zM549 162h1v2h-1zM550 164h1v4h-1zM551 168h1v4h-1zM552 172h1v4h-1zM553 176h1v4h-1zM554 180h1v3h-1zM555 183h1v3h-1zM556 186h1v3h-1zM557 189h1v4h-1zM558 193h1v5h-1zM559 198h1v6h-1zM560 204h1v5h-1zM561 209h1v8h-1zM562 217h1v10h-1zM563 227h1v11h-1zM564 238h1v10h-1zM565 248h1v9h-1zM566 257h1v7h-1zM567 264h1v6h-1zM568 270h1v7h-1zM569 277h1v6h-1zM570 283h1v5h-1zM571 288h1v5h-1zM572 293h1v5h-1zM573 298h1v5h-1zM574 303h1v5h-1zM575 308h1v5h-1zM576 313h1v5h-1zM577 318h1v4h-1zM578 322h1v2h-1zM579 324h1v3h-1zM580 327h1v2h-1zM581 330h1v1h-1zM582 328h1v1h-1zM583 327h1v1h-1zM584 325h1v2h-1zM585 322h1v3h-1zM586 318h1v4h-1zM587 314h1v4h-1zM588 310h1v4h-1zM589 306h1v4h-1zM590 302h1v4h-1zM591 297h1v5h-1zM592 293h1v4h-1zM593 288h1v5h-1zM594 284h1v4h-1zM595 280h1v4h-1zM596 276h1v4h-1zM597 272h1v4h-1zM598 268h1v4h-1zM599 264h1v4h-1zM600 260h1v4h-1zM601 258h1v2h-1zM602 256h1v2h-1zM603 254h1v2h-1zM605 251h1v1h-1zM605 254h1v1h-1zM606 255h1v6h-1zM607 261h1v6h-1zM608 267h1v6h-1zM609 273h1v6h-1zM610 279h1v6h-1zM611 285h1v6h-1zM612 291h1v6h-1zM613 297h1v5h-1zM614 302h1v5h-1zM615 307h1v4h-1zM616 311h1v5h-1zM617 316h1v8h-1zM618 324h1v10h-1zM619 334h1v10h-1zM620 344h1v10h-1zM621 354h1v8h-1zM622 362h1v8h-1zM623 370h1v7h-1zM624 377h1v8h-1zM625 385h1v7h-1zM626 392h1v6h-1zM627 398h1v6h-1zM628 404h1v6h-1zM629 410h1v6h-1zM630 416h1v5h-1zM631 421h1v4h-1zM632 425h1v5h-1zM633 430h1v4h-1zM634 434h1v3h-1zM635 437h1v4h-1zM636 441h1v3h-1zM637 444h1v3h-1zM638 447h1v2h-1zM639 449h1v3h-1zM640 452h1v2h-1zM641 454h1v2h-1zM642 456h1v1h-1zM643 457h1v2h-1zM644 459h1v1h-1zM650 462h1v1h-1zM651 463h1v2h-1zM652 465h1v1h-1zM653 466h1v1h-1zM654 467h1v1h-1zM655 468h1v2h-1zM656 470h1v1h-1zM661 469h1v1h-1zM662 470h1v1h-1zM663 471h1v1h-1zM664 472h1v1h-1zM665 473h1v1h-1zM668 475h1v1h-1zM669 476h1v1h-1zM670 475h1v1h-1zM671 474h1v1h-1zM672 473h1v1h-1zM673 471h1v2h-1zM674 469h1v2h-1zM675 466h1v3h-1zM676 464h1v2h-1zM677 463h1v1h-1zM681 464h1v2h-1zM682 466h1v2h-1zM683 468h1v2h-1zM684 470h1v2h-1zM685 472h1v2h-1zM686 474h1v3h-1zM687 477h1v3h-1zM688 480h1v3h-1zM689 483h1v3h-1zM690 486h1v3h-1zM691 489h1v2h-1zM692 491h1v3h-1zM693 494h1v3h-1zM694 497h1v2h-1zM695 499h1v3h-1zM696 502h1v2h-1zM697 504h1v1h-1zM701 507h1v1h-1zM702 506h1v1h-1zM703 505h1v1h-1zM704 504h1v1h-1zM705 503h1v1h-1zM706 501h1v2h-1zM707 500h1v1h-1zM708 498h1v2h-1zM709 497h1v1h-1zM710 495h1v2h-1zM711 494h1v1h-1zM712 492h1v2h-1zM713 490h1v2h-1zM714 488h1v2h-1zM715 486h1v2h-1zM716 484h1v2h-1zM717 480h1v4h-1zM718 476h1v4h-1zM719 472h1v4h-1zM720 468h1v4h-1zM721 465h1v3h-1zM722 463h1v2h-1zM723 461h1v2h-1zM724 459h1v2h-1zM725 457h1v2h-1zM726 455h1v2h-1zM727 453h1v2h-1zM728 451h1v2h-1zM729 448h1v3h-1zM730 444h1v4h-1zM731 440h1v4h-1zM732 436h1v4h-1zM733 433h1v3h-1zM734 431h1v2h-1zM735 428h1v3h-1zM736 426h1v2h-1zM737 424h1v2h-1zM738 423h1v1h-1zM739 421h1v2h-1zM740 420h1v1h-1zM749 415h1v1h-1zM750 414h1v1h-1zM751 412h1v2h-1zM752 411h1v1h-1zM753 410h1v1h-1zM754 408h1v2h-1zM755 406h1v2h-1zM756 404h1v2h-1zM757 403h1v1h-1zM758 401h1v2h-1zM759 400h1v1h-1zM760 398h1v2h-1zM761 397h1v1h-1zM762 395h1v2h-1zM763 393h1v2h-1zM764 391h1v2h-1zM765 388h1v3h-1zM766 384h1v4h-1zM767 380h1v4h-1zM768 376h1v4h-1zM769 373h1v3h-1zM770 369h1v4h-1zM771 366h1v3h-1zM772 362h1v4h-1zM773 360h1v2h-1zM774 359h1v1h-1zM775 358h1v1h-1zM776 357h1v1h-1zM777 356h1v1h-1zM780 354h1v1h-1zM788 354h1v1h-1zM789 355h1v2h-1zM790 357h1v2h-1zM791 359h1v3h-1zM792 362h1v2h-1zM793 365h1v1h-1zM794 363h1v1h-1zM795 362h1v1h-1zM796 360h1v2h-1zM797 358h1v2h-1zM798 354h1v4h-1zM799 351h1v3h-1zM800 347h1v4h-1zM801 344h1v3h-1zM802 342h1v2h-1zM803 340h1v2h-1zM804 338h1v2h-1zM805 336h1v2h-1zM806 333h1v3h-1zM807 330h1v3h-1zM808 327h1v3h-1zM809 324h1v3h-1zM810 322h1v2h-1zM811 320h1v2h-1zM812 318h1v2h-1zM818 317h1v2h-1zM819 319h1v1h-1zM820 320h1v2h-1zM821 322h1v1h-1zM822 321h1v1h-1zM823 320h1v1h-1zM824 319h1v1h-1zM825 318h1v1h-1zM826 317h1v1h-1zM827 316h1v1h-1zM828 315h1v1h-1zM834 316h1v1h-1zM835 317h1v2h-1zM836 319h1v1h-1zM854 323h1v1h-1zM855 321h1v2h-1zM856 320h1v1h-1zM857 319h1v1h-1zM858 317h1v2h-1zM859 316h1v1h-1zM860 314h1v2h-1zM861 313h1v1h-1zM862 312h1v1h-1zM863 310h1v2h-1zM864 309h1v1h-1zM865 308h1v1h-1zM866 309h1v2h-1zM867 311h1v2h-1zM868 313h1v2h-1zM869 315h1v2h-1zM870 317h1v4h-1zM871 321h1v3h-1zM872 324h1v4h-1zM873 328h1v4h-1zM874 332h1v4h-1zM875 336h1v5h-1zM876 341h1v4h-1zM877 345h1v5h-1zM878 350h1v5h-1zM879 355h1v4h-1zM880 359h1v5h-1zM881 364h1v5h-1zM882 369h1v5h-1zM883 374h1v5h-1zM884 379h1v5h-1zM885 384h1v5h-1zM886 389h1v4h-1zM887 393h1v5h-1zM888 398h1v4h-1zM889 402h1v4h-1zM890 406h1v3h-1zM891 409h1v3h-1zM892 412h1v3h-1zM893 416h1v1h-1zM895 413h1v2h-1zM896 412h1v1h-1zM897 410h1v2h-1zM898 406h1v4h-1zM899 403h1v3h-1zM900 399h1v4h-1zM901 395h1v4h-1zM902 391h1v4h-1zM903 387h1v4h-1zM904 383h1v4h-1zM905 379h1v4h-1zM906 375h1v4h-1zM907 371h1v4h-1zM908 367h1v4h-1zM909 364h1v3h-1zM910 362h1v2h-1zM911 359h1v3h-1zM912 357h1v2h-1zM913 354h1v3h-1zM914 352h1v2h-1zM915 349h1v3h-1zM916 347h1v2h-1zM917 345h1v2h-1zM920 343h1v1h-1zM949 342h1v1h-1zM952 344h1v1h-1zM953 345h1v1h-1zM956 347h1v1h-1zM961 350h1v1h-1zM962 349h1v1h-1zM963 348h1v1h-1zM964 347h1v1h-1zM965 345h1v2h-1zM966 343h1v2h-1zM967 340h1v3h-1zM968 338h1v2h-1zM969 335h1v3h-1zM970 332h1v3h-1zM971 328h1v4h-1zM972 325h1v3h-1zM973 322h1v3h-1zM974 319h1v3h-1zM975 316h1v3h-1zM976 313h1v3h-1zM977 310h1v3h-1zM978 308h1v2h-1zM979 306h1v2h-1zM980 304h1v2h-1zM981 303h1v1h-1zM984 301h1v1h-1zM990 301h1v1h-1zM991 302h1v2h-1zM992 304h1v1h-1zM993 305h1v2h-1zM994 307h1v4h-1zM995 311h1v4h-1zM996 315h1v4h-1zM997 319h1v4h-1zM998 323h1v5h-1zM999 328h1v5h-1zM1000 333h1v5h-1zM1001 338h1v5h-1zM1002 343h1v5h-1zM1003 348h1v4h-1zM1004 352h1v5h-1zM1005 357h1v5h-1zM1006 362h1v4h-1zM1007 366h1v4h-1zM1008 370h1v4h-1zM1009 374h1v4h-1zM1010 378h1v3h-1zM1011 381h1v4h-1zM1012 385h1v3h-1zM1013 388h1v3h-1zM1014 391h1v3h-1zM1015 394h1v2h-1zM1016 396h1v3h-1zM1017 399h1v3h-1zM1018 402h1v4h-1zM1019 406h1v3h-1zM1020 409h1v4h-1zM1021 413h1v3h-1zM1022 416h1v4h-1zM1023 420h1v3h-1zM1024 423h1v4h-1zM1025 427h1v3h-1zM1026 430h1v3h-1zM1027 433h1v3h-1zM1028 436h1v3h-1zM1029 439h1v3h-1zM1030 442h1v2h-1zM1031 444h1v2h-1zM1032 446h1v2h-1zM1033 448h1v3h-1zM1034 451h1v3h-1zM1035 454h1v2h-1zM1036 456h1v3h-1zM1037 459h1v3h-1zM1038 462h1v2h-1zM1039 464h1v2h-1zM1040 466h1v2h-1zM1041 468h1v3h-1zM1042 471h1v2h-1zM1043 473h1v2h-1zM1044 475h1v2h-1zM1045 477h1v1h-1zM1046 478h1v2h-1zM1047 480h1v1h-1zM1048 481h1v2h-1zM1049 483h1v1h-1zM1050 484h1v1h-1zM1051 485h1v1h-1zM1052 486h1v1h-1zM1053 487h1v1h-1zM1056 485h1v1h-1zM1057 483h1v2h-1zM1058 480h1v3h-1zM1059 478h1v2h-1zM1060 475h1v3h-1zM1061 472h1v3h-1zM1062 468h1v4h-1zM1063 465h1v3h-1zM1064 461h1v4h-1zM1065 458h1v3h-1zM1066 455h1v3h-1zM1067 452h1v3h-1zM1068 449h1v3h-1zM1069 446h1v3h-1zM1070 444h1v2h-1zM1071 441h1v3h-1zM1072 439h1v2h-1zM1073 437h1v2h-1zM1074 435h1v2h-1zM1075 433h1v2h-1zM1076 431h1v2h-1zM1077 430h1v1h-1zM1080 428h1v1h-1zM1085 425h1v1h-1zM1086 423h1v2h-1zM1087 422h1v1h-1zM1088 420h1v2h-1zM1089 419h1v1h-1zM1090 417h1v2h-1zM1091 415h1v2h-1zM1092 413h1v2h-1zM1093 411h1v2h-1zM1094 408h1v3h-1zM1095 406h1v2h-1zM1096 403h1v3h-1zM1097 400h1v3h-1zM1098 396h1v4h-1zM1099 393h1v3h-1zM1100 389h1v4h-1zM1101 386h1v3h-1zM1102 384h1v2h-1zM1103 382h1v2h-1zM1104 380h1v2h-1zM1105 379h1v1h-1zM1106 377h1v2h-1zM1107 375h1v2h-1zM1108 373h1v2h-1zM1109 372h1v1h-1zM1110 371h1v1h-1zM1111 369h1v2h-1zM1112 368h1v1h-1zM1129 369h1v1h-1zM1130 367h1v2h-1zM1131 366h1v1h-1zM1132 364h1v2h-1zM1133 362h1v2h-1zM1134 359h1v3h-1zM1135 357h1v2h-1zM1136 354h1v3h-1zM1137 351h1v3h-1zM1138 348h1v3h-1zM1139 345h1v3h-1zM1140 342h1v3h-1zM1141 339h1v3h-1zM1142 336h1v3h-1zM1143 334h1v2h-1zM1144 331h1v3h-1zM1145 329h1v2h-1zM1146 327h1v2h-1zM1147 326h1v1h-1zM1148 324h1v2h-1zM1165 324h1v1h-1zM1168 326h1v1h-1zM1178 327h1v2h-1zM1179 329h1v2h-1zM1180 331h1v2h-1zM1181 333h1v2h-1zM1182 335h1v2h-1zM1183 337h1v3h-1zM1184 340h1v2h-1zM1185 342h1v2h-1zM1186 344h1v2h-1zM1187 346h1v1h-1zM1188 347h1v2h-1zM1189 349h1v1h-1zM1190 350h1v2h-1zM1191 352h1v2h-1zM1192 354h1v2h-1zM1193 356h1v2h-1zM1194 358h1v2h-1zM1195 360h1v2h-1zM1196 362h1v2h-1zM1197 364h1v1h-1zM1202 365h1v1h-1zM1203 364h1v1h-1zM1205 362h1v1h-1zM1206 364h1v2h-1zM1207 366h1v2h-1zM1208 368h1v2h-1zM1209 370h1v2h-1zM1210 372h1v2h-1zM1211 374h1v3h-1zM1212 377h1v2h-1zM1213 379h1v2h-1zM1214 381h1v2h-1zM1215 383h1v1h-1zM1216 384h1v2h-1zM1217 386h1v2h-1zM1218 388h1v2h-1zM1219 390h1v3h-1zM1220 393h1v2h-1zM1221 395h1v3h-1zM1222 398h1v3h-1zM1223 401h1v2h-1zM1224 403h1v3h-1zM1225 406h1v3h-1zM1226 409h1v3h-1zM1227 412h1v2h-1zM1228 414h1v3h-1zM1229 417h1v3h-1zM1230 420h1v2h-1zM1231 422h1v3h-1zM1232 425h1v2h-1zM1233 427h1v2h-1zM1234 429h1v1h-1zM1235 430h1v1h-1zM1236 431h1v1h-1zM1241 430h1v1h-1zM1244 428h1v1h-1zM1245 427h1v1h-1zM1246 426h1v1h-1zM1247 424h1v2h-1zM1248 423h1v1h-1zM1249 422h1v1h-1zM1250 421h1v1h-1zM1251 419h1v2h-1zM1252 418h1v1h-1zM1253 417h1v1h-1zM1256 419h1v1h-1zM1257 420h1v2h-1zM1258 422h1v4h-1zM1259 426h1v4h-1zM1260 430h1v4h-1zM1261 434h1v3h-1zM1262 437h1v3h-1zM1263 440h1v2h-1zM1264 442h1v3h-1zM1265 445h1v4h-1zM1266 449h1v5h-1zM1267 454h1v4h-1zM1268 458h1v5h-1zM1269 463h1v5h-1zM1270 468h1v6h-1zM1271 474h1v5h-1zM1272 479h1v6h-1zM1273 485h1v6h-1zM1274 491h1v6h-1zM1275 497h1v6h-1zM1276 503h1v6h-1zM1277 509h1v5h-1zM1278 514h1v4h-1zM1279 518h1v5h-1zM1280 523h1v4h-1zM1281 527h1v4h-1zM1282 531h1v3h-1zM1283 534h1v4h-1zM1284 538h1v3h-1zM1285 541h1v3h-1zM1286 544h1v2h-1zM1287 546h1v3h-1zM1288 549h1v2h-1zM1289 551h1v1h-1zM1294 551h1v1h-1zM1295 549h1v2h-1zM1296 548h1v1h-1zM1297 547h1v1h-1zM1298 545h1v2h-1zM1299 543h1v2h-1zM1300 541h1v2h-1zM1301 540h1v1h-1zM1302 538h1v2h-1zM1303 536h1v2h-1zM1304 534h1v2h-1zM1305 533h1v1h-1z" fill="#ffa500"/>
<path d="M9 620h3v1h-3zM7 621h2v1h-2zM12 621h10v1h-10zM5 622h2v1h-2zM22 622h2v1h-2zM772 623h2v1h-2zM252 624h2v1h-2zM26 625h2v1h-2zM249 625h3v1h-3zM247 626h2v1h-2zM245 627h2v1h-2zM1133 627h2v1h-2zM1146 627h2v1h-2zM257 628h5v1h-5zM1135 628h2v1h-2zM1144 628h2v1h-2zM800 629h2v1h-2zM1111 629h3v1h-3zM1137 629h7v1h-7zM1153 629h2v1h-2zM421 630h2v1h-2zM797 630h3v1h-3zM973 630h3v1h-3zM1109 630h2v1h-2zM1155 630h2v1h-2zM1174 630h2v1h-2zM305 631h5v1h-5zM317 631h2v1h-2zM423 631h2v1h-2zM757 631h3v1h-3zM815 631h2v1h-2zM971 631h2v1h-2zM976 631h2v1h-2zM1097 631h2v1h-2zM1107 631h2v1h-2zM1157 631h3v1h-3zM239 632h2v1h-2zM303 632h2v1h-2zM319 632h2v1h-2zM425 632h3v1h-3zM541 632h5v1h-5zM760 632h2v1h-2zM813 632h2v1h-2zM969 632h2v1h-2zM988 632h2v1h-2zM1095 632h2v1h-2zM1099 632h2v1h-2zM1104 632h3v1h-3zM1160 632h8v1h-8zM237 633h2v1h-2zM301 633h2v1h-2zM428 633h2v1h-2zM464 633h2v1h-2zM539 633h2v1h-2zM762 633h2v1h-2zM828 633h2v1h-2zM863 633h3v1h-3zM985 633h3v1h-3zM1093 633h2v1h-2zM1101 633h3v1h-3zM1168 633h2v1h-2zM430 634h2v1h-2zM458 634h2v1h-2zM537 634h2v1h-2zM733 634h2v1h-2zM778 634h2v1h-2zM805 634h3v1h-3zM810 634h2v1h-2zM824 634h4v1h-4zM830 634h2v1h-2zM860 634h3v1h-3zM966 634h2v1h-2zM983 634h2v1h-2zM234 635h2v1h-2zM298 635h2v1h-2zM454 635h2v1h-2zM735 635h2v1h-2zM808 635h2v1h-2zM821 635h3v1h-3zM857 635h3v1h-3zM981 635h2v1h-2zM1119 635h2v1h-2zM1122 635h2v1h-2zM833 636h3v1h-3zM845 636h7v1h-7zM855 636h2v1h-2zM1117 636h2v1h-2zM1128 636h2v1h-2zM434 637h2v1h-2zM477 637h5v1h-5zM738 637h2v1h-2zM782 637h2v1h-2zM789 637h3v1h-3zM836 637h2v1h-2zM852 637h3v1h-3zM904 637h2v1h-2zM917 637h2v1h-2zM1125 637h3v1h-3zM178 638h2v1h-2zM280 638h4v1h-4zM445 638h3v1h-3zM450 638h2v1h-2zM494 638h2v1h-2zM513 638h2v1h-2zM743 638h2v1h-2zM787 638h2v1h-2zM792 638h2v1h-2zM838 638h2v1h-2zM901 638h3v1h-3zM919 638h2v1h-2zM928 638h4v1h-4zM944 638h2v1h-2zM269 639h3v1h-3zM276 639h4v1h-4zM284 639h2v1h-2zM349 639h5v1h-5zM381 639h2v1h-2zM393 639h3v1h-3zM399 639h2v1h-2zM448 639h2v1h-2zM515 639h2v1h-2zM741 639h2v1h-2zM785 639h2v1h-2zM921 639h7v1h-7zM932 639h3v1h-3zM941 639h3v1h-3zM1085 639h3v1h-3zM157 640h5v1h-5zM181 640h2v1h-2zM272 640h4v1h-4zM326 640h2v1h-2zM383 640h2v1h-2zM396 640h3v1h-3zM497 640h2v1h-2zM517 640h2v1h-2zM593 640h3v1h-3zM721 640h3v1h-3zM727 640h2v1h-2zM935 640h2v1h-2zM939 640h2v1h-2zM1088 640h2v1h-2zM183 641h2v1h-2zM385 641h2v1h-2zM470 641h2v1h-2zM485 641h3v1h-3zM499 641h2v1h-2zM519 641h2v1h-2zM596 641h4v1h-4zM724 641h3v1h-3zM909 641h5v1h-5zM937 641h2v1h-2zM1082 641h2v1h-2zM1189 641h5v1h-5zM101 642h2v1h-2zM154 642h2v1h-2zM170 642h2v1h-2zM185 642h2v1h-2zM329 642h3v1h-3zM387 642h2v1h-2zM488 642h2v1h-2zM501 642h3v1h-3zM521 642h5v1h-5zM600 642h2v1h-2zM949 642h2v1h-2zM1061 642h2v1h-2zM1194 642h2v1h-2zM99 643h2v1h-2zM103 643h2v1h-2zM187 643h2v1h-2zM191 643h2v1h-2zM332 643h6v1h-6zM504 643h4v1h-4zM951 643h2v1h-2zM1063 643h2v1h-2zM97 644h2v1h-2zM189 644h2v1h-2zM373 644h5v1h-5zM508 644h2v1h-2zM953 644h7v1h-7zM1065 644h3v1h-3zM1197 644h3v1h-3zM960 645h2v1h-2zM1068 645h8v1h-8zM1200 645h3v1h-3zM357 646h3v1h-3zM362 646h2v1h-2zM1076 646h2v1h-2zM1203 646h2v1h-2zM360 647h2v1h-2zM894 647h2v1h-2zM214 648h2v1h-2zM553 648h3v1h-3zM1206 648h2v1h-2zM1244 648h2v1h-2zM197 649h3v1h-3zM204 649h2v1h-2zM556 649h2v1h-2zM1005 649h3v1h-3zM1212 649h4v1h-4zM1240 649h4v1h-4zM1246 649h2v1h-2zM37 650h3v1h-3zM119 650h2v1h-2zM200 650h4v1h-4zM222 650h2v1h-2zM708 650h3v1h-3zM1008 650h4v1h-4zM1209 650h3v1h-3zM1216 650h2v1h-2zM1237 650h3v1h-3zM1251 650h2v1h-2zM40 651h2v1h-2zM91 651h2v1h-2zM117 651h2v1h-2zM705 651h3v1h-3zM711 651h2v1h-2zM1012 651h2v1h-2zM1249 651h2v1h-2zM89 652h2v1h-2zM115 652h2v1h-2zM1301 652h3v1h-3zM113 653h2v1h-2zM673 653h5v1h-5zM1304 653h2v1h-2zM86 654h2v1h-2zM678 654h2v1h-2zM877 654h5v1h-5zM997 654h2v1h-2zM882 655h2v1h-2zM999 655h2v1h-2zM1221 655h5v1h-5zM45 656h2v1h-2zM65 656h3v1h-3zM1017 656h3v1h-3zM1258 656h2v1h-2zM47 657h2v1h-2zM68 657h4v1h-4zM144 657h2v1h-2zM580 657h2v1h-2zM661 657h3v1h-3zM682 657h2v1h-2zM885 657h5v1h-5zM1020 657h3v1h-3zM62 658h2v1h-2zM72 658h6v1h-6zM141 658h3v1h-3zM577 658h3v1h-3zM664 658h6v1h-6zM697 658h3v1h-3zM1023 658h2v1h-2zM1230 658h2v1h-2zM1261 658h2v1h-2zM50 659h2v1h-2zM130 659h2v1h-2zM609 659h7v1h-7zM685 659h2v1h-2zM695 659h2v1h-2zM700 659h2v1h-2zM1025 659h2v1h-2zM1263 659h2v1h-2zM616 660h4v1h-4zM648 660h2v1h-2zM687 660h2v1h-2zM692 660h3v1h-3zM1027 660h2v1h-2zM53 661h3v1h-3zM58 661h2v1h-2zM133 661h3v1h-3zM565 661h2v1h-2zM620 661h3v1h-3zM645 661h3v1h-3zM689 661h3v1h-3zM1029 661h3v1h-3zM1266 661h2v1h-2zM56 662h2v1h-2zM136 662h2v1h-2zM567 662h2v1h-2zM623 662h2v1h-2zM1032 662h8v1h-8zM569 663h3v1h-3zM1040 663h4v1h-4zM572 664h2v1h-2zM626 664h2v1h-2zM653 664h2v1h-2zM1044 664h4v1h-4zM632 665h3v1h-3zM655 665h3v1h-3zM1048 665h6v1h-6zM1289 665h3v1h-3zM629 666h3v1h-3zM635 666h2v1h-2zM1287 666h2v1h-2zM1292 666h2v1h-2zM637 667h3v1h-3zM1277 667h10v1h-10zM640 668h2v1h-2zM1275 668h2v1h-2zM1273 669h2v1h-2zM24 623h1v1h-1zM25 624h1v1h-1zM28 626h1v1h-1zM29 627h1v2h-1zM30 629h1v3h-1zM31 632h1v2h-1zM32 634h1v3h-1zM33 637h1v3h-1zM34 640h1v3h-1zM35 643h1v3h-1zM36 646h1v3h-1zM37 649h1v1h-1zM42 652h1v1h-1zM43 653h1v2h-1zM44 655h1v1h-1zM49 658h1v1h-1zM52 660h1v1h-1zM60 660h1v1h-1zM61 659h1v1h-1zM64 657h1v1h-1zM78 656h1v2h-1zM79 654h1v2h-1zM80 652h1v2h-1zM81 651h1v1h-1zM82 652h1v1h-1zM83 653h1v1h-1zM84 654h1v1h-1zM85 655h1v1h-1zM88 653h1v1h-1zM93 650h1v1h-1zM94 648h1v2h-1zM95 647h1v1h-1zM96 645h1v2h-1zM105 644h1v1h-1zM106 645h1v1h-1zM107 646h1v2h-1zM108 648h1v1h-1zM109 649h1v1h-1zM110 650h1v1h-1zM111 651h1v1h-1zM112 652h1v1h-1zM121 649h1v1h-1zM122 650h1v1h-1zM123 651h1v2h-1zM124 653h1v1h-1zM125 654h1v1h-1zM126 655h1v1h-1zM127 656h1v1h-1zM128 657h1v1h-1zM129 658h1v1h-1zM132 660h1v1h-1zM138 661h1v1h-1zM139 660h1v1h-1zM140 659h1v1h-1zM146 655h1v2h-1zM147 654h1v1h-1zM148 652h1v2h-1zM149 650h1v2h-1zM150 648h1v2h-1zM151 646h1v2h-1zM152 644h1v2h-1zM153 643h1v1h-1zM156 641h1v1h-1zM162 639h1v1h-1zM163 638h1v1h-1zM164 637h1v1h-1zM165 636h1v1h-1zM166 637h1v1h-1zM167 638h1v2h-1zM168 640h1v1h-1zM169 641h1v1h-1zM172 643h1v1h-1zM173 644h1v1h-1zM174 642h1v2h-1zM175 640h1v2h-1zM176 638h1v2h-1zM177 637h1v1h-1zM180 639h1v1h-1zM193 642h1v1h-1zM194 643h1v2h-1zM195 645h1v2h-1zM196 647h1v2h-1zM206 650h1v1h-1zM207 651h1v1h-1zM208 652h1v1h-1zM209 653h1v1h-1zM210 652h1v1h-1zM211 651h1v1h-1zM212 650h1v1h-1zM213 649h1v1h-1zM216 647h1v1h-1zM217 646h1v1h-1zM218 647h1v1h-1zM219 648h1v2h-1zM220 650h1v1h-1zM221 651h1v1h-1zM224 649h1v1h-1zM225 648h1v1h-1zM226 646h1v2h-1zM227 645h1v1h-1zM228 643h1v2h-1zM229 642h1v1h-1zM230 640h1v2h-1zM231 639h1v1h-1zM232 637h1v2h-1zM233 636h1v1h-1zM236 634h1v1h-1zM241 631h1v1h-1zM242 630h1v1h-1zM243 629h1v1h-1zM244 628h1v1h-1zM254 625h1v1h-1zM255 626h1v1h-1zM256 627h1v1h-1zM262 629h1v1h-1zM263 630h1v2h-1zM264 632h1v1h-1zM265 633h1v1h-1zM266 634h1v2h-1zM267 636h1v1h-1zM268 637h1v2h-1zM286 640h1v2h-1zM287 642h1v1h-1zM288 643h1v2h-1zM289 645h1v1h-1zM290 644h1v1h-1zM291 643h1v1h-1zM292 642h1v1h-1zM293 641h1v1h-1zM294 640h1v1h-1zM295 638h1v2h-1zM296 637h1v1h-1zM297 636h1v1h-1zM300 634h1v1h-1zM310 632h1v1h-1zM311 633h1v1h-1zM312 634h1v1h-1zM313 635h1v1h-1zM314 634h1v1h-1zM315 633h1v1h-1zM316 632h1v1h-1zM321 633h1v1h-1zM322 634h1v2h-1zM323 636h1v1h-1zM324 637h1v2h-1zM325 639h1v1h-1zM328 641h1v1h-1zM338 644h1v1h-1zM339 645h1v2h-1zM340 647h1v1h-1zM341 648h1v1h-1zM342 647h1v1h-1zM343 645h1v2h-1zM344 644h1v1h-1zM345 643h1v1h-1zM346 642h1v1h-1zM347 641h1v1h-1zM348 640h1v1h-1zM354 640h1v2h-1zM355 642h1v2h-1zM356 644h1v2h-1zM364 645h1v1h-1zM365 644h1v1h-1zM366 643h1v1h-1zM367 641h1v2h-1zM368 640h1v1h-1zM369 639h1v1h-1zM370 640h1v1h-1zM371 641h1v2h-1zM372 643h1v1h-1zM378 643h1v1h-1zM379 641h1v2h-1zM380 640h1v1h-1zM389 643h1v1h-1zM390 642h1v1h-1zM391 641h1v1h-1zM392 640h1v1h-1zM401 638h1v1h-1zM402 639h1v1h-1zM403 640h1v2h-1zM404 642h1v1h-1zM405 643h1v1h-1zM406 641h1v2h-1zM407 639h1v2h-1zM408 637h1v2h-1zM409 636h1v1h-1zM410 634h1v2h-1zM411 633h1v1h-1zM412 631h1v2h-1zM413 630h1v1h-1zM414 629h1v1h-1zM415 628h1v1h-1zM416 627h1v1h-1zM417 626h1v1h-1zM418 627h1v1h-1zM419 628h1v1h-1zM420 629h1v1h-1zM432 635h1v1h-1zM433 636h1v1h-1zM436 638h1v1h-1zM437 639h1v1h-1zM438 637h1v2h-1zM439 636h1v1h-1zM440 634h1v2h-1zM441 633h1v1h-1zM442 634h1v1h-1zM443 635h1v2h-1zM444 637h1v1h-1zM452 637h1v1h-1zM453 636h1v1h-1zM456 634h1v1h-1zM457 633h1v1h-1zM460 635h1v1h-1zM461 636h1v1h-1zM462 635h1v1h-1zM463 634h1v1h-1zM465 632h1v1h-1zM466 634h1v2h-1zM467 636h1v2h-1zM468 638h1v2h-1zM469 640h1v1h-1zM472 642h1v1h-1zM473 643h1v1h-1zM474 641h1v2h-1zM475 640h1v1h-1zM476 638h1v2h-1zM482 638h1v1h-1zM483 639h1v1h-1zM484 640h1v1h-1zM490 641h1v1h-1zM491 639h1v2h-1zM492 638h1v1h-1zM493 637h1v1h-1zM496 639h1v1h-1zM510 642h1v2h-1zM511 641h1v1h-1zM512 639h1v2h-1zM526 641h1v1h-1zM527 640h1v1h-1zM528 639h1v1h-1zM529 637h1v2h-1zM530 635h1v2h-1zM531 633h1v2h-1zM532 631h1v2h-1zM533 630h1v1h-1zM534 631h1v1h-1zM535 632h1v1h-1zM536 633h1v1h-1zM545 633h1v1h-1zM546 634h1v2h-1zM547 636h1v2h-1zM548 638h1v2h-1zM549 640h1v2h-1zM550 642h1v2h-1zM551 644h1v2h-1zM552 646h1v2h-1zM558 650h1v1h-1zM559 651h1v1h-1zM560 652h1v1h-1zM561 653h1v2h-1zM562 655h1v2h-1zM563 657h1v2h-1zM564 659h1v2h-1zM574 662h1v2h-1zM575 661h1v1h-1zM576 659h1v2h-1zM582 656h1v1h-1zM583 654h1v2h-1zM584 653h1v1h-1zM585 652h1v1h-1zM586 650h1v2h-1zM587 648h1v2h-1zM588 646h1v2h-1zM589 645h1v1h-1zM590 644h1v1h-1zM591 642h1v2h-1zM592 641h1v1h-1zM602 643h1v1h-1zM603 644h1v2h-1zM604 646h1v1h-1zM605 647h1v2h-1zM606 649h1v3h-1zM607 652h1v3h-1zM608 655h1v3h-1zM609 658h1v1h-1zM625 663h1v1h-1zM628 665h1v1h-1zM642 666h1v2h-1zM643 664h1v2h-1zM644 662h1v2h-1zM650 661h1v1h-1zM651 662h1v1h-1zM652 663h1v1h-1zM657 666h1v1h-1zM658 663h1v2h-1zM659 661h1v2h-1zM660 659h1v2h-1zM661 658h1v1h-1zM670 657h1v1h-1zM671 655h1v2h-1zM672 654h1v1h-1zM680 655h1v1h-1zM681 656h1v1h-1zM684 658h1v1h-1zM701 658h1v1h-1zM702 656h1v2h-1zM703 654h1v2h-1zM704 652h1v2h-1zM713 652h1v1h-1zM714 650h1v2h-1zM715 648h1v2h-1zM716 646h1v2h-1zM717 645h1v1h-1zM718 644h1v1h-1zM719 642h1v2h-1zM720 641h1v1h-1zM729 639h1v1h-1zM730 638h1v1h-1zM731 636h1v2h-1zM732 635h1v1h-1zM737 636h1v1h-1zM740 638h1v1h-1zM745 637h1v1h-1zM746 638h1v1h-1zM747 639h1v1h-1zM748 640h1v1h-1zM749 641h1v1h-1zM750 639h1v2h-1zM751 638h1v1h-1zM752 636h1v2h-1zM753 635h1v1h-1zM754 634h1v1h-1zM755 633h1v1h-1zM756 632h1v1h-1zM764 634h1v1h-1zM765 635h1v1h-1zM766 633h1v2h-1zM767 632h1v1h-1zM768 630h1v2h-1zM769 629h1v1h-1zM770 627h1v2h-1zM771 625h1v2h-1zM772 624h1v1h-1zM773 622h1v1h-1zM774 624h1v3h-1zM775 627h1v2h-1zM776 629h1v3h-1zM777 632h1v2h-1zM780 635h1v1h-1zM781 636h1v1h-1zM784 638h1v1h-1zM793 637h1v1h-1zM794 635h1v2h-1zM795 633h1v2h-1zM796 631h1v2h-1zM802 630h1v1h-1zM803 631h1v2h-1zM804 633h1v1h-1zM812 633h1v1h-1zM817 630h1v1h-1zM818 631h1v1h-1zM819 632h1v2h-1zM820 634h1v1h-1zM832 635h1v1h-1zM840 639h1v1h-1zM841 640h1v1h-1zM842 639h1v1h-1zM843 638h1v1h-1zM844 637h1v1h-1zM865 632h1v1h-1zM866 634h1v3h-1zM867 637h1v2h-1zM868 639h1v3h-1zM869 642h1v2h-1zM870 644h1v1h-1zM871 645h1v1h-1zM872 646h1v1h-1zM873 647h1v1h-1zM874 648h1v2h-1zM875 650h1v2h-1zM876 652h1v2h-1zM884 656h1v1h-1zM889 656h1v1h-1zM890 654h1v2h-1zM891 652h1v2h-1zM892 650h1v2h-1zM893 648h1v2h-1zM896 646h1v1h-1zM897 645h1v1h-1zM898 643h1v2h-1zM899 641h1v2h-1zM900 639h1v2h-1zM906 638h1v1h-1zM907 639h1v1h-1zM908 640h1v1h-1zM914 640h1v1h-1zM915 639h1v1h-1zM916 638h1v1h-1zM946 639h1v1h-1zM947 640h1v1h-1zM948 641h1v1h-1zM961 644h1v1h-1zM962 642h1v2h-1zM963 639h1v3h-1zM964 637h1v2h-1zM965 635h1v2h-1zM968 633h1v1h-1zM978 632h1v1h-1zM979 633h1v1h-1zM980 634h1v1h-1zM989 633h1v1h-1zM990 634h1v2h-1zM991 636h1v3h-1zM992 639h1v2h-1zM993 641h1v3h-1zM994 644h1v3h-1zM995 647h1v3h-1zM996 650h1v3h-1zM997 653h1v1h-1zM1001 656h1v1h-1zM1002 654h1v2h-1zM1003 652h1v2h-1zM1004 650h1v2h-1zM1014 652h1v1h-1zM1015 653h1v2h-1zM1016 655h1v1h-1zM1054 663h1v2h-1zM1055 661h1v2h-1zM1056 659h1v2h-1zM1057 656h1v3h-1zM1058 652h1v4h-1zM1059 648h1v4h-1zM1060 644h1v4h-1zM1061 643h1v1h-1zM1078 645h1v1h-1zM1079 644h1v1h-1zM1080 643h1v1h-1zM1081 642h1v1h-1zM1084 640h1v1h-1zM1090 638h1v2h-1zM1091 636h1v2h-1zM1092 634h1v2h-1zM1113 628h1v1h-1zM1114 630h1v2h-1zM1115 632h1v2h-1zM1116 634h1v2h-1zM1121 634h1v1h-1zM1124 636h1v1h-1zM1129 635h1v1h-1zM1130 633h1v2h-1zM1131 631h1v2h-1zM1132 629h1v2h-1zM1133 628h1v1h-1zM1148 626h1v1h-1zM1149 625h1v1h-1zM1150 626h1v1h-1zM1151 627h1v1h-1zM1152 628h1v1h-1zM1170 632h1v1h-1zM1171 631h1v1h-1zM1172 630h1v1h-1zM1173 629h1v1h-1zM1176 631h1v1h-1zM1177 632h1v2h-1zM1178 634h1v2h-1zM1179 636h1v3h-1zM1180 639h1v2h-1zM1181 641h1v3h-1zM1182 644h1v2h-1zM1183 646h1v3h-1zM1184 649h1v2h-1zM1185 651h1v2h-1zM1186 648h1v3h-1zM1187 646h1v2h-1zM1188 643h1v3h-1zM1189 642h1v1h-1zM1196 643h1v1h-1zM1205 647h1v1h-1zM1208 649h1v1h-1zM1218 651h1v1h-1zM1219 652h1v2h-1zM1220 654h1v1h-1zM1226 656h1v1h-1zM1227 657h1v1h-1zM1228 658h1v1h-1zM1229 659h1v1h-1zM1232 657h1v1h-1zM1233 656h1v1h-1zM1234 654h1v2h-1zM1235 653h1v1h-1zM1236 651h1v2h-1zM1248 650h1v1h-1zM1253 649h1v1h-1zM1254 650h1v2h-1zM1255 652h1v1h-1zM1256 653h1v2h-1zM1257 655h1v1h-1zM1260 657h1v1h-1zM1265 660h1v1h-1zM1268 662h1v1h-1zM1269 663h1v1h-1zM1270 664h1v2h-1zM1271 666h1v1h-1zM1272 667h1v2h-1zM1294 664h1v2h-1zM1295 662h1v2h-1zM1296 660h1v2h-1zM1297 659h1v1h-1zM1298 657h1v2h-1zM1299 655h1v2h-1zM1300 653h1v2h-1z" fill="#1e90ff"/>
<path d="M28 705h3v1h-3zM34 705h2v1h-2zM22 706h2v1h-2zM17 707h2v1h-2zM277 732h3v1h-3zM283 732h3v1h-3zM289 733h3v1h-3zM823 733h3v1h-3zM829 733h3v1h-3zM835 733h3v1h-3zM271 734h2v1h-2zM817 734h3v1h-3zM841 734h3v1h-3zM295 735h2v1h-2zM811 735h3v1h-3zM848 735h2v1h-2zM853 735h3v1h-3zM332 736h2v1h-2zM337 736h3v1h-3zM805 736h3v1h-3zM1171 736h3v1h-3zM1177 736h3v1h-3zM266 737h2v1h-2zM301 737h3v1h-3zM320 737h2v1h-2zM325 737h3v1h-3zM799 737h2v1h-2zM860 737h2v1h-2zM865 737h3v1h-3zM1160 737h2v1h-2zM1165 737h3v1h-3zM308 738h2v1h-2zM313 738h3v1h-3zM343 738h2v1h-2zM871 738h3v1h-3zM1184 738h2v1h-2zM1189 738h2v1h-2zM445 739h3v1h-3zM451 739h3v1h-3zM457 739h3v1h-3zM463 739h3v1h-3zM469 739h3v1h-3zM877 739h2v1h-2zM1153 739h3v1h-3zM349 740h2v1h-2zM440 740h2v1h-2zM475 740h3v1h-3zM481 740h3v1h-3zM793 740h2v1h-2zM1148 740h2v1h-2zM487 741h3v1h-3zM788 741h2v1h-2zM1196 741h2v1h-2zM433 742h3v1h-3zM493 742h3v1h-3zM1141 742h3v1h-3zM1201 742h2v1h-2zM356 743h2v1h-2zM428 743h2v1h-2zM499 743h3v1h-3zM781 743h3v1h-3zM361 744h3v1h-3zM505 744h3v1h-3zM548 744h2v1h-2zM553 744h3v1h-3zM1135 744h2v1h-2zM512 745h2v1h-2zM560 745h2v1h-2zM776 745h2v1h-2zM992 745h2v1h-2zM997 745h3v1h-3zM1003 745h3v1h-3zM1207 745h2v1h-2zM367 746h2v1h-2zM421 746h2v1h-2zM517 746h3v1h-3zM541 746h3v1h-3zM565 746h3v1h-3zM889 746h2v1h-2zM985 746h3v1h-3zM1009 746h2v1h-2zM1129 746h3v1h-3zM416 747h2v1h-2zM524 747h2v1h-2zM529 747h3v1h-3zM535 747h3v1h-3zM979 747h3v1h-3zM1124 747h2v1h-2zM1213 747h2v1h-2zM373 748h3v1h-3zM770 748h2v1h-2zM968 748h2v1h-2zM973 748h3v1h-3zM379 749h3v1h-3zM409 749h3v1h-3zM949 749h3v1h-3zM955 749h3v1h-3zM961 749h3v1h-3zM385 750h3v1h-3zM404 750h2v1h-2zM944 750h2v1h-2zM1117 750h2v1h-2zM1220 750h2v1h-2zM392 751h2v1h-2zM397 751h3v1h-3zM937 751h3v1h-3zM763 752h2v1h-2zM932 752h2v1h-2zM1225 752h2v1h-2zM1111 753h2v1h-2zM902 754h2v1h-2zM757 755h2v1h-2zM925 755h2v1h-2zM1021 755h2v1h-2zM1231 755h2v1h-2zM200 756h2v1h-2zM920 756h2v1h-2zM1106 756h2v1h-2zM205 757h3v1h-3zM908 757h2v1h-2zM913 757h3v1h-3zM193 758h3v1h-3zM212 758h2v1h-2zM217 758h2v1h-2zM242 758h2v1h-2zM1237 758h2v1h-2zM751 759h2v1h-2zM187 761h2v1h-2zM224 761h2v1h-2zM236 761h2v1h-2zM1244 761h2v1h-2zM229 762h3v1h-3zM746 762h2v1h-2zM1249 762h3v1h-3zM1034 763h2v1h-2zM1255 763h3v1h-3zM182 764h2v1h-2zM589 764h2v1h-2zM1093 764h2v1h-2zM1261 764h3v1h-3zM1268 765h2v1h-2zM1039 766h2v1h-2zM1273 766h2v1h-2zM596 767h2v1h-2zM601 767h3v1h-3zM607 767h3v1h-3zM613 767h3v1h-3zM620 768h2v1h-2zM1087 768h2v1h-2zM128 769h2v1h-2zM625 769h2v1h-2zM1045 769h2v1h-2zM1279 769h2v1h-2zM121 770h3v1h-3zM133 770h3v1h-3zM734 770h2v1h-2zM116 771h2v1h-2zM1081 771h2v1h-2zM139 772h2v1h-2zM1052 772h2v1h-2zM1285 772h2v1h-2zM85 773h2v1h-2zM1075 773h2v1h-2zM109 774h2v1h-2zM170 774h2v1h-2zM1057 774h2v1h-2zM104 775h2v1h-2zM727 775h2v1h-2zM1069 775h3v1h-3zM1291 775h2v1h-2zM92 776h2v1h-2zM97 776h3v1h-3zM145 776h2v1h-2zM1063 776h3v1h-3zM164 777h2v1h-2zM722 778h2v1h-2zM1297 778h3v1h-3zM152 779h2v1h-2zM157 779h3v1h-3zM1304 780h2v1h-2zM716 781h2v1h-2zM643 782h2v1h-2zM709 783h3v1h-3zM704 784h2v1h-2zM649 785h2v1h-2zM697 786h3v1h-3zM692 787h2v1h-2zM655 788h2v1h-2zM685 789h3v1h-3zM680 790h2v1h-2zM661 791h3v1h-3zM667 792h3v1h-3zM673 792h3v1h-3zM5 718h1v1h-1zM6 717h1v1h-1zM7 716h1v1h-1zM10 712h1v1h-1zM11 711h1v1h-1zM12 710h1v1h-1zM16 708h1v1h-1zM24 705h1v1h-1zM36 706h1v1h-1zM40 707h1v1h-1zM41 708h1v1h-1zM42 709h1v1h-1zM46 713h1v2h-1zM47 715h1v1h-1zM49 719h1v1h-1zM50 720h1v2h-1zM52 725h1v1h-1zM53 726h1v1h-1zM54 727h1v1h-1zM56 731h1v2h-1zM57 733h1v1h-1zM60 737h1v2h-1zM61 739h1v1h-1zM63 743h1v1h-1zM64 744h1v2h-1zM67 749h1v1h-1zM68 750h1v2h-1zM71 755h1v2h-1zM72 757h1v1h-1zM74 761h1v1h-1zM75 762h1v1h-1zM76 763h1v1h-1zM79 767h1v1h-1zM80 768h1v1h-1zM81 769h1v1h-1zM87 774h1v1h-1zM91 775h1v1h-1zM103 776h1v1h-1zM111 773h1v1h-1zM115 772h1v1h-1zM127 770h1v1h-1zM141 773h1v1h-1zM147 777h1v1h-1zM151 778h1v1h-1zM163 778h1v1h-1zM169 775h1v1h-1zM175 771h1v1h-1zM176 770h1v1h-1zM177 769h1v1h-1zM181 765h1v1h-1zM189 760h1v1h-1zM199 757h1v1h-1zM211 757h1v1h-1zM219 759h1v1h-1zM223 760h1v1h-1zM235 762h1v1h-1zM241 759h1v1h-1zM247 755h1v1h-1zM248 754h1v1h-1zM249 753h1v1h-1zM253 750h1v1h-1zM254 749h1v1h-1zM255 748h1v1h-1zM259 744h1v1h-1zM260 743h1v1h-1zM261 742h1v1h-1zM265 738h1v1h-1zM273 733h1v1h-1zM297 736h1v1h-1zM307 737h1v1h-1zM319 738h1v1h-1zM331 737h1v1h-1zM345 739h1v1h-1zM351 741h1v1h-1zM355 742h1v1h-1zM369 747h1v1h-1zM391 750h1v1h-1zM403 751h1v1h-1zM415 748h1v1h-1zM423 745h1v1h-1zM427 744h1v1h-1zM439 741h1v1h-1zM511 744h1v1h-1zM523 746h1v1h-1zM547 745h1v1h-1zM559 744h1v1h-1zM571 748h1v1h-1zM572 749h1v1h-1zM573 750h1v1h-1zM577 754h1v1h-1zM578 755h1v1h-1zM579 756h1v1h-1zM583 759h1v1h-1zM584 760h1v1h-1zM585 761h1v1h-1zM591 765h1v1h-1zM595 766h1v1h-1zM619 767h1v1h-1zM627 770h1v1h-1zM631 772h1v1h-1zM632 773h1v1h-1zM633 774h1v1h-1zM637 777h1v1h-1zM638 778h1v1h-1zM639 779h1v1h-1zM645 783h1v1h-1zM651 786h1v1h-1zM657 789h1v1h-1zM679 791h1v1h-1zM691 788h1v1h-1zM703 785h1v1h-1zM715 782h1v1h-1zM721 779h1v1h-1zM729 774h1v1h-1zM733 771h1v1h-1zM739 767h1v1h-1zM740 766h1v1h-1zM741 765h1v1h-1zM745 763h1v1h-1zM753 758h1v1h-1zM759 754h1v1h-1zM765 751h1v1h-1zM769 749h1v1h-1zM775 746h1v1h-1zM787 742h1v1h-1zM795 739h1v1h-1zM801 736h1v1h-1zM847 734h1v1h-1zM859 736h1v1h-1zM879 740h1v1h-1zM883 742h1v1h-1zM884 743h1v1h-1zM885 744h1v1h-1zM891 747h1v1h-1zM895 749h1v1h-1zM896 750h1v1h-1zM897 751h1v1h-1zM901 753h1v1h-1zM907 756h1v1h-1zM919 757h1v1h-1zM927 754h1v1h-1zM931 753h1v1h-1zM943 751h1v1h-1zM967 749h1v1h-1zM991 746h1v1h-1zM1011 747h1v1h-1zM1015 749h1v1h-1zM1016 750h1v1h-1zM1017 751h1v1h-1zM1023 756h1v1h-1zM1027 758h1v1h-1zM1028 759h1v1h-1zM1029 760h1v1h-1zM1033 762h1v1h-1zM1041 767h1v1h-1zM1047 770h1v1h-1zM1051 771h1v1h-1zM1059 775h1v1h-1zM1077 772h1v1h-1zM1083 770h1v1h-1zM1089 767h1v1h-1zM1095 763h1v1h-1zM1099 761h1v1h-1zM1100 760h1v1h-1zM1101 759h1v1h-1zM1105 757h1v1h-1zM1113 752h1v1h-1zM1119 749h1v1h-1zM1123 748h1v1h-1zM1137 743h1v1h-1zM1147 741h1v1h-1zM1159 738h1v1h-1zM1183 737h1v1h-1zM1191 739h1v1h-1zM1195 740h1v1h-1zM1203 743h1v1h-1zM1209 746h1v1h-1zM1215 748h1v1h-1zM1219 749h1v1h-1zM1227 753h1v1h-1zM1233 756h1v1h-1zM1239 759h1v1h-1zM1243 760h1v1h-1zM1267 764h1v1h-1zM1275 767h1v1h-1zM1281 770h1v1h-1zM1287 773h1v1h-1zM1293 776h1v1h-1zM1303 779h1v1h-1z" fill="#ff0000"/>
<path d="M4 21h1638v1h-1638zM4 588h1638v1h-1638zM4 590h1638v1h-1638zM4 694h1638v1h-1638zM4 696h1638v1h-1638zM4 799h1638v1h-1638zM4 21h1v779h-1zM1641 21h1v779h-1zM1642 24h2v1h-2zM1642 57h2v1h-2zM1642 90h2v1h-2zM1642 123h2v1h-2zM1642 156h2v1h-2zM1642 189h2v1h-2zM1642 222h2v1h-2zM1642 255h2v1h-2zM1642 288h2v1h-2zM1642 321h2v1h-2zM1642 354h2v1h-2zM1642 387h2v1h-2zM1642 420h2v1h-2zM1642 453h2v1h-2zM1642 486h2v1h-2zM1642 519h2v1h-2zM1642 552h2v1h-2zM1642 585h2v1h-2zM1642 592h1v1h-1zM1642 693h1v1h-1zM1642 698h1v1h-1zM5 800h1v3h-1zM69 800h1v3h-1zM133 800h1v3h-1zM197 800h1v3h-1zM261 800h1v3h-1zM325 800h1v3h-1zM389 800h1v3h-1zM453 800h1v3h-1zM517 800h1v3h-1zM581 800h1v3h-1zM645 800h1v3h-1zM709 800h1v3h-1zM773 800h1v3h-1zM837 800h1v3h-1zM901 800h1v3h-1zM965 800h1v3h-1zM1029 800h1v3h-1zM1093 800h1v3h-1zM1157 800h1v3h-1zM1221 800h1v3h-1zM1285 800h1v3h-1z" fill="#000"/>
<path d="M5 124h1637v2h-1637zM5 227h1637v2h-1637zM5 338h1637v2h-1637z" fill="#ff0000"/>
<path d="M5 433h1637v2h-1637z" fill="#00ff00"/>
<path d="M5 525h1637v2h-1637z" fill="#0000ff"/>
<path d="M4 336h6v6h-6z" fill="#ff0000"/><path d="M6 338h2v2h-2z" fill="#fff"/>
<path d="M1635 336h6v6h-6z" fill="#ff0000"/><path d="M1637 338h2v2h-2z" fill="#fff"/>
<path d="M4 431h6v6h-6z" fill="#00ff00"/><path d="M6 433h2v2h-2z" fill="#fff"/>
<path d="M1635 431h6v6h-6z" fill="#00ff00"/><path d="M1637 433h2v2h-2z" fill="#fff"/>
<path d="M1308 22h9v1h-9zM1309 23h7v1h-7zM1310 24h5v1h-5zM1311 25h3v1h-3zM1312 26h1v1h-1z" fill="#c0c0c0"/>
<path d="M8 28h7v1h-7zM9 29h5v1h-5zM10 30h3v1h-3zM11 31h1v1h-1z" fill="#000"/>
</svg>
<div class="t" style="left:20px;top:25px;letter-spacing:-0.13px">USDCAD,Daily</div>
<div class="t" style="left:92px;top:25px;letter-spacing:-0.48px">1.30348</div>
<div class="t" style="left:128.3px;top:25px;letter-spacing:-0.48px">1.30430</div>
<div class="t" style="left:164.3px;top:25px;letter-spacing:-0.48px">1.30209</div>
<div class="t" style="left:200.2px;top:25px;letter-spacing:-0.48px">1.30271</div>
<div class="t" style="left:9px;top:595px;letter-spacing:-0.4px">RSI(14) 39.5243</div>
<div class="t" style="left:9px;top:701px;letter-spacing:-0.31px">MACD(12,26,9) -0.005075 -0.005625</div>
<div class="t pl" style="top:20px">1.36980</div>
<div class="t pl" style="top:53px">1.36530</div>
<div class="t pl" style="top:86px">1.36080</div>
<div class="t pl" style="top:119px">1.35630</div>
<div class="t pl" style="top:152px">1.35180</div>
<div class="t pl" style="top:185px">1.34730</div>
<div class="t pl" style="top:218px">1.34280</div>
<div class="t pl" style="top:251px">1.33840</div>
<div class="t pl" style="top:284px">1.33390</div>
<div class="t pl" style="top:317px">1.32940</div>
<div class="t pl" style="top:350px">1.32490</div>
<div class="t pl" style="top:383px">1.32040</div>
<div class="t pl" style="top:416px">1.31600</div>
<div class="t pl" style="top:449px">1.31150</div>
<div class="t pl" style="top:482px">1.30700</div>
<div class="t pl" style="top:515px">1.30250</div>
<div class="t pl" style="top:548px">1.29800</div>
<div class="t pl" style="top:581px">1.29350</div>
<div class="bx" style="top:119px;background:#ff0000"><span>1.35606</span></div>
<div class="bx" style="top:222px;background:#ff0000"><span>1.34206</span></div>
<div class="bx" style="top:333px;background:#ff0000"><span>1.32700</span></div>
<div class="bx" style="top:428px;background:#00ff00"><span>1.31405</span></div>
<div class="bx" style="top:513px;background:#000"><span>1.30271</span></div>
<div class="bx" style="top:520px;background:#0000ff"><span>1.30152</span></div>
<div class="t sl" style="top:593px">100</div>
<div class="t sl" style="top:618px">70</div>
<div class="t sl" style="top:659px">30</div>
<div class="t sl" style="top:683px">0</div>
<div class="t sl" style="top:699px">0.010615</div>
<div class="t sl" style="top:748px">0.00</div>
<div class="t sl" style="top:788px">-0.009181</div>
<div class="t dl" style="left:4px">26 Dec 2018</div>
<div class="t dl" style="left:68px">14 Jan 2019</div>
<div class="t dl" style="left:132px">1 Feb 2019</div>
<div class="t dl" style="left:196px">20 Feb 2019</div>
<div class="t dl" style="left:260px">11 Mar 2019</div>
<div class="t dl" style="left:324px">29 Mar 2019</div>
<div class="t dl" style="left:388px">17 Apr 2019</div>
<div class="t dl" style="left:452px">6 May 2019</div>
<div class="t dl" style="left:516px">24 May 2019</div>
<div class="t dl" style="left:580px">12 Jun 2019</div>
<div class="t dl" style="left:644px">1 Jul 2019</div>
<div class="t dl" style="left:708px">19 Jul 2019</div>
<div class="t dl" style="left:772px">7 Aug 2019</div>
<div class="t dl" style="left:836px">26 Aug 2019</div>
<div class="t dl" style="left:900px">13 Sep 2019</div>
<div class="t dl" style="left:964px">2 Oct 2019</div>
<div class="t dl" style="left:1028px">21 Oct 2019</div>
<div class="t dl" style="left:1092px">8 Nov 2019</div>
<div class="t dl" style="left:1156px">27 Nov 2019</div>
<div class="t dl" style="left:1220px">16 Dec 2019</div>
<div class="t dl" style="left:1284px">3 Jan 2020</div>
<div class="a" style="left:0;top:820px;width:1686px;height:2px;background:#f2f2f2"></div>
<div class="a" style="left:0;top:822px;width:1686px;height:1px;background:#101010"></div>
<div class="a" style="left:0;top:823px;width:1686px;height:1px;background:#fbfbfb"></div>
<div class="a" style="left:0;top:824px;width:1686px;height:17px;background:#f0f0f0"></div>
<div class="a" style="left:0;top:841px;width:1686px;height:2px;background:#fafafa"></div>
<div class="a" style="left:0;top:843px;width:1686px;height:2px;background:#f0f0f0"></div>
<div class="a" style="left:0;top:823px;width:1px;height:18px;background:#a0a0a0"></div>
<div class="a" style="left:1px;top:823px;width:1px;height:18px;background:#6c6c6c"></div>
<div class="a" style="left:314px;top:822px;width:104px;height:19px;background:#fff;border-left:1px solid #000;border-right:1px solid #000;border-bottom:1px solid #000;box-sizing:border-box;box-shadow:1px 1px 0 #8c8c8c"></div>
<div class="a" style="left:110px;top:826px;width:1px;height:13px;background:#6a6a6a"></div>
<div class="a" style="left:210px;top:826px;width:1px;height:13px;background:#6a6a6a"></div>
<div class="a" style="left:522px;top:826px;width:1px;height:13px;background:#6a6a6a"></div>
<div class="a tab" style="left:17.6px;letter-spacing:0.02px">EURUSD,Daily</div>
<div class="a tab" style="left:119.6px;letter-spacing:0.06px">USDCHF,Daily</div>
<div class="a tab" style="left:221px;letter-spacing:0.18px">AUDUSD,Daily</div>
<div class="a tab" style="left:324.5px;letter-spacing:0.09px;color:#000">USDCAD,Daily</div>
<div class="a tab" style="left:427px;letter-spacing:0.27px">USDCNH,Daily</div>
<svg class="a" style="left:1650px;top:825px" width="36" height="14" viewBox="0 0 36 14"><path d="M10 3v7l-3.500-3.500z" fill="#808080"/><path d="M26 3v7l3.500-3.500z" fill="#808080"/></svg>
<div class="a tf" style="left:88px">M1</div>
<div class="a tf" style="left:116px">M5</div>
<div class="a tf" style="left:142px">M15</div>
<div class="a tf" style="left:170px">M30</div>
<div class="a tf" style="left:201px">H1</div>
<div class="a tf" style="left:228px">H4</div>
<div class="a tf" style="left:257px">D1</div>
<div class="a tf" style="left:284px">W1</div>
<div class="a tf" style="left:311px">MN</div>
</body></html>
